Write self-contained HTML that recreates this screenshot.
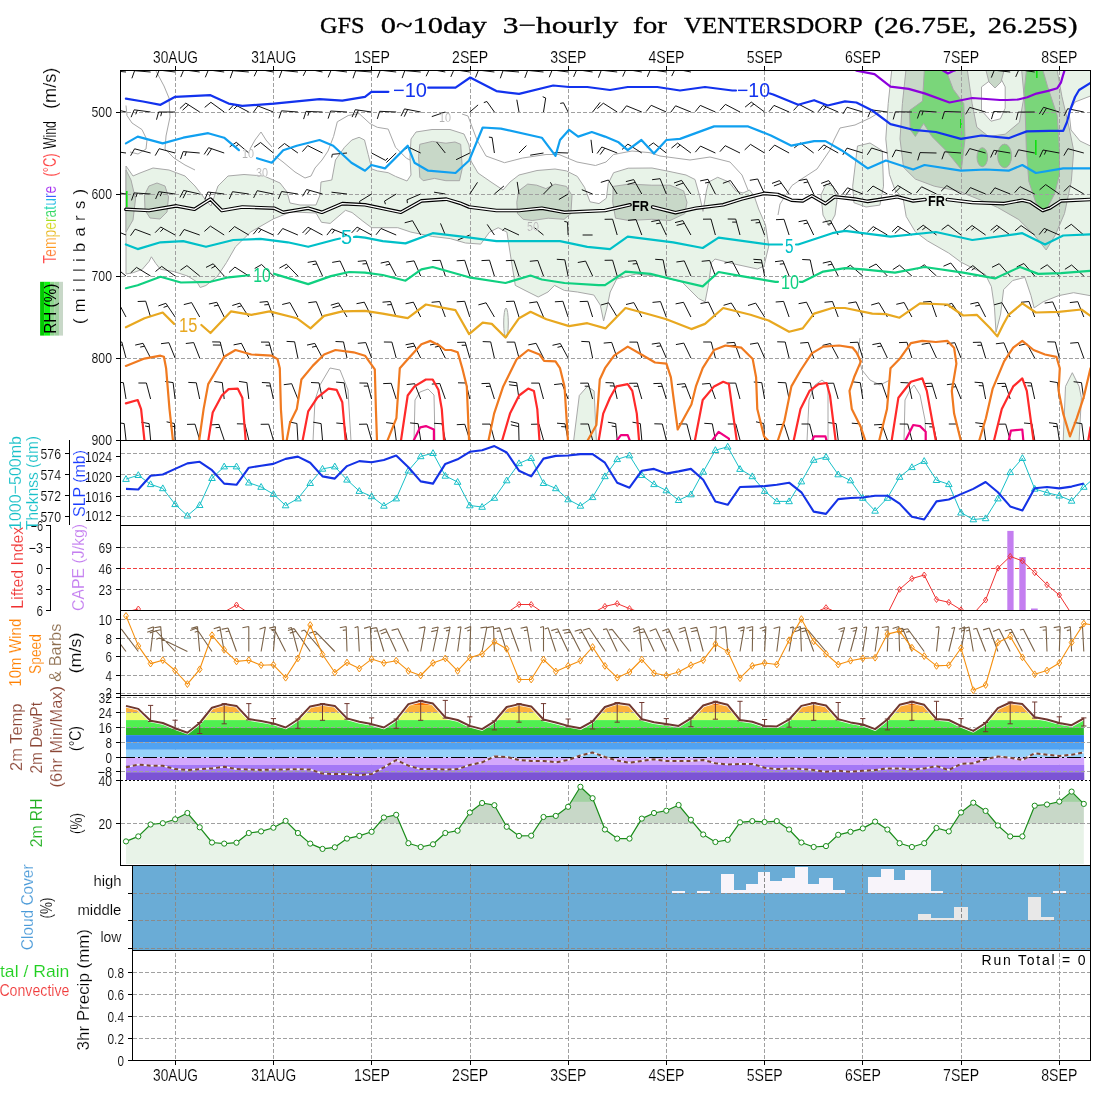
<!DOCTYPE html><html><head><meta charset="utf-8"><title>GFS meteogram</title><style>html,body{margin:0;padding:0;background:#fff;overflow:hidden}svg{display:block}</style></head><body>
<svg width="1100" height="1100" viewBox="0 0 1100 1100" style="will-change:transform">
<style>.th{stroke:#fff;stroke-width:0.15px}</style>
<rect x="0" y="0" width="1100" height="1100" fill="#fff"/>
<defs><clipPath id="cTop"><rect x="121" y="71" width="969" height="369"/></clipPath><clipPath id="cCape"><rect x="121" y="526" width="969" height="84"/></clipPath><clipPath id="cWind"><rect x="121" y="611" width="969" height="84"/></clipPath><clipPath id="cSlp"><rect x="121" y="441" width="969" height="84"/></clipPath></defs>
<text x="320.0" y="33.4" font-family="Liberation Serif" font-size="24" font-weight="normal" fill="#000" text-anchor="start" textLength="44.5" lengthAdjust="spacingAndGlyphs" stroke="#000" stroke-width="0.35">GFS</text>
<text x="380.8" y="33.4" font-family="Liberation Serif" font-size="24" font-weight="normal" fill="#000" text-anchor="start" textLength="106.0" lengthAdjust="spacingAndGlyphs" stroke="#000" stroke-width="0.35">0~10day</text>
<text x="502.7" y="33.4" font-family="Liberation Serif" font-size="24" font-weight="normal" fill="#000" text-anchor="start" textLength="115.5" lengthAdjust="spacingAndGlyphs" stroke="#000" stroke-width="0.35">3−hourly</text>
<text x="633.0" y="33.4" font-family="Liberation Serif" font-size="24" font-weight="normal" fill="#000" text-anchor="start" textLength="34.0" lengthAdjust="spacingAndGlyphs" stroke="#000" stroke-width="0.35">for</text>
<text x="684.0" y="33.4" font-family="Liberation Serif" font-size="24" font-weight="normal" fill="#000" text-anchor="start" textLength="178.7" lengthAdjust="spacingAndGlyphs" stroke="#000" stroke-width="0.35">VENTERSDORP</text>
<text x="874.0" y="33.4" font-family="Liberation Serif" font-size="24" font-weight="normal" fill="#000" text-anchor="start" textLength="102.4" lengthAdjust="spacingAndGlyphs" stroke="#000" stroke-width="0.35">(26.75E,</text>
<text x="987.7" y="33.4" font-family="Liberation Serif" font-size="24" font-weight="normal" fill="#000" text-anchor="start" textLength="89.8" lengthAdjust="spacingAndGlyphs" stroke="#000" stroke-width="0.35">26.25S)</text>
<text x="175.5" y="62.7" class="th" font-family="Liberation Sans" font-size="17" font-weight="normal" fill="#000" text-anchor="middle" textLength="45.0" lengthAdjust="spacingAndGlyphs" >30AUG</text>
<text x="175.5" y="1080.7" class="th" font-family="Liberation Sans" font-size="17" font-weight="normal" fill="#000" text-anchor="middle" textLength="45.0" lengthAdjust="spacingAndGlyphs" >30AUG</text>
<text x="273.7" y="62.7" class="th" font-family="Liberation Sans" font-size="17" font-weight="normal" fill="#000" text-anchor="middle" textLength="45.0" lengthAdjust="spacingAndGlyphs" >31AUG</text>
<text x="273.7" y="1080.7" class="th" font-family="Liberation Sans" font-size="17" font-weight="normal" fill="#000" text-anchor="middle" textLength="45.0" lengthAdjust="spacingAndGlyphs" >31AUG</text>
<text x="371.9" y="62.7" class="th" font-family="Liberation Sans" font-size="17" font-weight="normal" fill="#000" text-anchor="middle" textLength="36.0" lengthAdjust="spacingAndGlyphs" >1SEP</text>
<text x="371.9" y="1080.7" class="th" font-family="Liberation Sans" font-size="17" font-weight="normal" fill="#000" text-anchor="middle" textLength="36.0" lengthAdjust="spacingAndGlyphs" >1SEP</text>
<text x="470.1" y="62.7" class="th" font-family="Liberation Sans" font-size="17" font-weight="normal" fill="#000" text-anchor="middle" textLength="36.0" lengthAdjust="spacingAndGlyphs" >2SEP</text>
<text x="470.1" y="1080.7" class="th" font-family="Liberation Sans" font-size="17" font-weight="normal" fill="#000" text-anchor="middle" textLength="36.0" lengthAdjust="spacingAndGlyphs" >2SEP</text>
<text x="568.3" y="62.7" class="th" font-family="Liberation Sans" font-size="17" font-weight="normal" fill="#000" text-anchor="middle" textLength="36.0" lengthAdjust="spacingAndGlyphs" >3SEP</text>
<text x="568.3" y="1080.7" class="th" font-family="Liberation Sans" font-size="17" font-weight="normal" fill="#000" text-anchor="middle" textLength="36.0" lengthAdjust="spacingAndGlyphs" >3SEP</text>
<text x="666.5" y="62.7" class="th" font-family="Liberation Sans" font-size="17" font-weight="normal" fill="#000" text-anchor="middle" textLength="36.0" lengthAdjust="spacingAndGlyphs" >4SEP</text>
<text x="666.5" y="1080.7" class="th" font-family="Liberation Sans" font-size="17" font-weight="normal" fill="#000" text-anchor="middle" textLength="36.0" lengthAdjust="spacingAndGlyphs" >4SEP</text>
<text x="764.7" y="62.7" class="th" font-family="Liberation Sans" font-size="17" font-weight="normal" fill="#000" text-anchor="middle" textLength="36.0" lengthAdjust="spacingAndGlyphs" >5SEP</text>
<text x="764.7" y="1080.7" class="th" font-family="Liberation Sans" font-size="17" font-weight="normal" fill="#000" text-anchor="middle" textLength="36.0" lengthAdjust="spacingAndGlyphs" >5SEP</text>
<text x="862.9" y="62.7" class="th" font-family="Liberation Sans" font-size="17" font-weight="normal" fill="#000" text-anchor="middle" textLength="36.0" lengthAdjust="spacingAndGlyphs" >6SEP</text>
<text x="862.9" y="1080.7" class="th" font-family="Liberation Sans" font-size="17" font-weight="normal" fill="#000" text-anchor="middle" textLength="36.0" lengthAdjust="spacingAndGlyphs" >6SEP</text>
<text x="961.1" y="62.7" class="th" font-family="Liberation Sans" font-size="17" font-weight="normal" fill="#000" text-anchor="middle" textLength="36.0" lengthAdjust="spacingAndGlyphs" >7SEP</text>
<text x="961.1" y="1080.7" class="th" font-family="Liberation Sans" font-size="17" font-weight="normal" fill="#000" text-anchor="middle" textLength="36.0" lengthAdjust="spacingAndGlyphs" >7SEP</text>
<text x="1059.3" y="62.7" class="th" font-family="Liberation Sans" font-size="17" font-weight="normal" fill="#000" text-anchor="middle" textLength="36.0" lengthAdjust="spacingAndGlyphs" >8SEP</text>
<text x="1059.3" y="1080.7" class="th" font-family="Liberation Sans" font-size="17" font-weight="normal" fill="#000" text-anchor="middle" textLength="36.0" lengthAdjust="spacingAndGlyphs" >8SEP</text>
<g clip-path="url(#cTop)">
<polygon points="126.0,166.0 133.0,176.0 140.0,173.0 153.0,168.0 169.0,170.0 185.0,176.0 195.0,186.0 205.0,199.0 211.0,206.0 218.0,186.0 228.0,176.0 244.0,174.5 264.0,176.0 280.0,183.0 287.0,192.0 290.0,203.0 300.0,205.0 316.0,205.0 320.0,195.0 321.0,182.0 331.8,180.0 335.5,160.0 344.5,147.3 351.8,140.0 359.1,137.3 364.5,140.0 368.2,154.5 371.8,169.0 377.3,170.9 388.2,172.7 395.5,176.4 407.0,181.0 411.0,175.0 410.0,157.0 411.0,139.0 416.0,132.0 432.0,129.5 450.0,129.5 464.0,134.0 469.0,145.0 471.0,161.0 478.0,173.0 491.0,182.0 503.0,190.0 510.0,182.0 519.0,175.0 537.0,170.5 555.0,169.0 566.4,170.9 577.3,176.4 584.5,187.3 590.0,201.8 599.0,203.6 606.4,198.2 608.2,183.6 613.6,172.7 628.2,168.2 652.0,168.0 670.0,171.6 686.0,175.0 695.0,179.5 699.5,195.5 703.0,211.4 706.4,191.0 708.6,182.0 717.7,177.3 729.0,182.0 736.0,191.0 743.0,193.0 749.5,190.0 754.0,195.5 758.6,209.0 765.5,225.0 768.8,246.0 764.0,266.0 757.4,269.0 734.5,264.0 715.0,259.0 711.6,262.5 708.3,285.4 705.1,301.8 698.5,298.5 682.0,282.0 662.5,277.0 636.0,274.0 616.7,279.0 610.2,292.0 606.9,308.0 603.6,321.0 600.3,305.0 593.8,295.0 577.4,292.0 564.3,290.4 554.5,285.4 548.0,292.0 538.2,297.0 525.0,290.4 515.3,285.4 511.3,260.5 506.9,232.1 498.2,227.7 489.5,232.1 480.7,244.1 465.5,243.0 450.2,238.6 432.7,236.5 410.9,232.1 397.8,227.7 371.6,227.7 362.9,221.2 352.0,212.5 345.5,210.3 330.2,223.4 321.5,222.3 316.0,213.0 293.4,212.0 290.0,212.2 273.8,218.7 250.9,231.8 235.5,246.8 226.4,262.7 217.3,276.4 205.9,285.5 200.2,287.5 196.8,281.8 187.7,276.1 174.1,271.6 160.5,269.3 155.9,263.6 151.4,256.8 149.1,261.4 142.3,269.3 133.2,272.7 126.0,274.0" fill="#e8f3e8" stroke="#a8a8a8" stroke-width="1" />
<polygon points="891.7,70.5 1090.5,70.5 1090.5,295.7 1073.6,292.7 1058.4,295.7 1043.2,301.8 1034.1,307.9 1031.0,295.7 1024.9,277.4 1012.7,280.5 1003.6,289.6 1000.6,314.0 996.0,332.3 994.5,307.9 991.4,286.6 985.3,274.4 973.2,268.3 961.0,262.2 948.8,253.1 927.5,240.9 915.3,231.8 906.2,216.5 903.1,198.3 895.0,190.0 889.4,174.4 885.8,138.9 888.2,103.5" fill="#e8f3e8" stroke="#a8a8a8" stroke-width="1" />
<polygon points="857.5,146.0 852.7,186.2 853.9,202.7 866.0,207.0 879.9,205.1 883.5,186.2 882.3,150.7 870.0,143.0" fill="#e8f3e8" stroke="#a8a8a8" stroke-width="1" />
<polygon points="821.0,195.0 826.0,184.0 833.0,186.0 837.0,200.0 835.0,215.0 829.0,226.0 823.0,215.0" fill="#e8f3e8" stroke="#a8a8a8" stroke-width="1" />
<polygon points="573.6,441.0 579.3,395.5 587.3,386.4 594.1,390.9 596.4,441.0" fill="#e8f3e8" stroke="#a8a8a8" stroke-width="1" />
<polygon points="1063.2,441.0 1065.5,386.4 1072.3,372.7 1079.1,386.4 1081.4,397.7 1079.1,441.0" fill="#e8f3e8" stroke="#a8a8a8" stroke-width="1" />
<ellipse cx="506" cy="323" rx="2.3" ry="15" fill="#e8f3e8" stroke="#a8a8a8"/>
<polygon points="1069.0,112.0 1075.0,102.0 1090.5,96.0 1090.5,146.0 1080.0,141.0 1071.0,130.0" fill="#fff" stroke="#a8a8a8" stroke-width="1" />
<polygon points="126.0,170.0 131.0,180.0 135.5,199.0 133.0,220.0 126.0,232.0" fill="#c8d8c8" stroke="#a8a8a8" stroke-width="1" />
<polygon points="419.8,144.3 432.3,141.4 445.9,143.2 455.0,142.0 460.7,144.3 462.3,168.2 459.5,180.7 445.9,180.7 434.5,178.4 423.2,180.7 419.8,177.3 418.6,156.8" fill="#c8d8c8" stroke="#a8a8a8" stroke-width="1" />
<polygon points="518.6,190.9 527.7,184.1 536.8,185.2 545.9,188.6 555.0,184.1 566.4,186.4 572.0,195.5 570.9,213.6 564.1,219.3 548.2,218.2 532.3,220.5 523.2,219.3 517.5,213.6 516.8,202.3" fill="#c8d8c8" stroke="#a8a8a8" stroke-width="1" />
<polygon points="613.2,186.4 629.1,184.1 651.8,185.2 670.0,185.2 683.6,190.9 687.0,202.3 684.8,213.6 670.0,220.5 651.8,219.3 629.1,220.5 615.5,218.2 612.7,202.3" fill="#c8d8c8" stroke="#a8a8a8" stroke-width="1" />
<polygon points="905.9,70.5 902.4,103.5 900.0,138.9 903.5,167.3 915.4,179.1 934.3,186.2 957.9,190.9 981.5,200.4 997.5,207.4 1018.8,219.6 1034.1,234.8 1046.2,250.0 1055.4,234.8 1064.5,213.5 1071.3,181.4 1073.7,150.7 1069.0,127.1 1061.9,96.4 1057.2,70.5" fill="#c8d8c8" stroke="#a8a8a8" stroke-width="1" />
<polygon points="149.0,186.0 157.0,183.0 165.0,186.0 168.5,197.0 167.0,212.0 160.0,219.0 150.0,218.0 145.0,210.0 144.5,195.0" fill="#c8d8c8" stroke="#a8a8a8" stroke-width="1" />
<polygon points="967.4,70.5 972.1,103.5 976.8,127.1 988.6,136.5 1005.2,134.2 1019.4,122.4 1024.1,96.4 1021.7,70.5" fill="#e8f3e8" stroke="#a8a8a8" stroke-width="1" />
<polygon points="981.5,86.9 981.5,110.5 991.0,121.2 1000.4,118.8 1005.2,108.2 1005.2,86.9 1000.4,77.5 991.0,79.8" fill="#fff" stroke="#a8a8a8" stroke-width="1" />
<polygon points="986.0,70.5 989.0,82.0 995.0,88.0 1001.0,82.0 1004.0,70.5" fill="#c8d8c8" stroke="#a8a8a8" stroke-width="1" />
<polygon points="924.3,70.5 946.1,70.5 953.2,89.3 963.8,103.5 965.0,138.9 961.4,169.6 946.1,150.7 931.9,136.5 923.6,123.5 915.4,136.5 910.2,129.5 909.5,110.5 922.5,101.1" fill="#7ad67a" stroke="#a8a8a8" stroke-width="1" />
<polygon points="1026.4,70.5 1043.0,70.5 1047.7,86.9 1057.2,115.3 1059.5,150.7 1059.5,174.4 1054.8,193.3 1047.7,207.4 1043.0,212.2 1035.9,202.7 1028.8,181.4 1026.4,150.7 1025.3,115.3 1024.1,91.6" fill="#7ad67a" stroke="#a8a8a8" stroke-width="1" />
<ellipse cx="982.3" cy="157.2" rx="5.3" ry="9.5" fill="#7ad67a" stroke="#a8a8a8"/>
<ellipse cx="1004.6" cy="155.9" rx="7" ry="11.8" fill="#7ad67a" stroke="#a8a8a8"/>
<rect x="960" y="119" width="1.6" height="9" fill="#10e010"/>
<rect x="1035" y="140" width="1.6" height="15" fill="#10e010"/>
<rect x="1036" y="70" width="1.6" height="8" fill="#10e010"/>
<rect x="126" y="191" width="1.6" height="16" fill="#10e010"/>
<polyline points="156.0,71.0 164.0,86.0 169.0,98.0 170.0,117.0 166.0,136.0 165.0,149.0 174.0,158.0 185.0,165.0 195.0,170.0" fill="none" stroke="#a8a8a8" stroke-width="1" stroke-linejoin="round" />
<polyline points="126.0,105.5 127.0,115.6 132.0,123.0 142.0,129.6 147.0,140.0 146.0,149.0 138.0,154.0 130.0,152.0" fill="none" stroke="#a8a8a8" stroke-width="1" stroke-linejoin="round" />
<polyline points="250.0,149.0 255.0,140.0 261.0,132.0 266.0,140.0 272.0,147.0" fill="none" stroke="#a8a8a8" stroke-width="1" stroke-linejoin="round" />
<polyline points="275.0,156.0 283.0,162.0 295.0,172.0 305.0,178.0 311.0,176.0 315.0,168.0 322.0,160.0 328.0,151.0 333.6,136.4 337.3,121.8 348.2,115.5 359.1,113.6 370.0,123.6 377.3,127.3 388.2,129.1 395.5,147.3 406.4,158.2 410.0,160.0" fill="none" stroke="#a8a8a8" stroke-width="1" stroke-linejoin="round" />
<polyline points="462.0,114.0 468.0,116.0 477.0,140.0 486.0,156.0 504.5,162.7 522.7,158.0 546.0,154.5 559.0,154.5 577.0,162.0 595.5,165.5 606.0,162.0 613.6,154.5 632.0,151.0 650.0,152.7 660.0,156.0 690.0,160.0 710.0,157.0 730.0,162.0 742.0,175.0 748.0,190.0" fill="none" stroke="#a8a8a8" stroke-width="1" stroke-linejoin="round" />
<polyline points="880.0,112.0 870.0,118.0 855.0,125.0 840.0,128.0 834.0,140.0 830.0,150.0 817.0,169.0 800.0,180.0 792.0,185.5 780.0,204.0 778.0,215.0" fill="none" stroke="#a8a8a8" stroke-width="1" stroke-linejoin="round" />
<polyline points="860.0,338.0 858.0,355.0 862.0,370.0 870.0,380.0 880.0,385.0 890.0,380.0" fill="none" stroke="#a8a8a8" stroke-width="1" stroke-linejoin="round" />
<polyline points="313.0,441.0 315.0,400.0 320.0,385.0 330.0,368.0 340.0,370.0 348.0,390.0 351.0,441.0" fill="none" stroke="#a8a8a8" stroke-width="1" stroke-linejoin="round" />
<polyline points="414.0,441.0 415.0,400.0 420.0,392.0 428.0,389.0 434.0,395.0 435.0,441.0" fill="none" stroke="#a8a8a8" stroke-width="1" stroke-linejoin="round" />
<polyline points="807.0,441.0 809.0,400.0 815.0,385.0 822.0,380.0 828.0,385.0 828.0,441.0" fill="none" stroke="#a8a8a8" stroke-width="1" stroke-linejoin="round" />
<polyline points="904.0,441.0 905.0,400.0 910.0,390.0 914.0,385.0 920.0,395.0 925.0,420.0 926.0,441.0" fill="none" stroke="#a8a8a8" stroke-width="1" stroke-linejoin="round" />
</g>
<g stroke="#a0a0a0" stroke-width="1" stroke-dasharray="4 2" shape-rendering="crispEdges">
<line x1="121" y1="112.5" x2="1090" y2="112.5"/>
<line x1="121" y1="194.5" x2="1090" y2="194.5"/>
<line x1="121" y1="276.5" x2="1090" y2="276.5"/>
<line x1="121" y1="358.5" x2="1090" y2="358.5"/>
<line x1="175.5" y1="71" x2="175.5" y2="1060"/>
<line x1="273.7" y1="71" x2="273.7" y2="1060"/>
<line x1="371.9" y1="71" x2="371.9" y2="1060"/>
<line x1="470.1" y1="71" x2="470.1" y2="1060"/>
<line x1="568.3" y1="71" x2="568.3" y2="1060"/>
<line x1="666.5" y1="71" x2="666.5" y2="1060"/>
<line x1="764.7" y1="71" x2="764.7" y2="1060"/>
<line x1="862.9" y1="71" x2="862.9" y2="1060"/>
<line x1="961.1" y1="71" x2="961.1" y2="1060"/>
<line x1="1059.3" y1="71" x2="1059.3" y2="1060"/>
</g>
<g clip-path="url(#cTop)"><path d="M126.0 72.0L110.1 70.5M110.1 70.5L107.3 78.1M150.6 72.0L134.6 70.7M134.6 70.7L131.9 78.3M175.1 72.0L159.2 70.1M159.2 70.1L156.2 77.5M199.7 72.0L183.8 69.8M183.8 69.8L180.7 77.1M224.2 72.0L208.4 69.9M208.4 69.9L205.3 77.3M248.8 72.0L232.9 70.7M232.9 70.7L230.2 78.2M273.4 72.0L257.6 69.1M257.6 69.1L254.2 76.3M297.9 72.0L282.0 70.4M282.0 70.4L279.2 77.9M322.5 72.0L306.8 68.8M306.8 68.8L303.2 75.9M347.0 72.0L331.2 70.0M331.2 70.0L328.1 77.4M371.6 72.0L355.6 70.8M355.6 70.8L353.0 78.3M396.2 72.0L380.3 70.2M380.3 70.2L377.3 77.7M420.7 72.0L404.8 70.6M404.8 70.6L402.1 78.1M445.3 72.0L429.5 69.1M429.5 69.1L426.1 76.3M469.8 72.0L454.0 69.6M454.0 69.6L450.8 76.9M494.4 72.0L478.5 70.1M478.5 70.1L475.5 77.5M519.0 72.0L503.0 70.7M503.0 70.7L500.3 78.3M543.5 72.0L527.6 70.4M527.6 70.4L524.8 77.9M568.1 72.0L552.2 69.9M552.2 69.9L549.2 77.3M592.6 72.0L576.8 69.6M576.8 69.6L573.6 76.9M617.2 72.0L601.3 70.2M601.3 70.2L598.4 77.7M641.8 72.0L626.0 69.3M626.0 69.3L622.7 76.6M666.3 72.0L650.5 69.6M650.5 69.6L647.3 76.9M690.9 72.0L675.2 68.9M675.2 68.9L671.7 76.1M1010.2 72.0L994.3 70.2M994.3 70.2L991.3 77.6M1034.7 72.0L1018.9 69.6M1018.9 69.6L1015.7 76.9M126.0 112.0L110.0 108.0M110.0 108.0L106.1 115.0M113.1 108.8L109.2 115.7M150.6 112.0L134.2 109.8M134.2 109.8L131.1 117.2M137.4 110.3L135.7 114.3M175.1 112.0L158.6 112.0M158.6 112.0L156.5 119.7M161.8 112.0L160.7 116.2M199.7 112.0L185.8 103.1M185.8 103.1L179.9 108.5M188.5 104.8L182.6 110.2M224.2 112.0L210.9 102.3M210.9 102.3L204.7 107.4M248.8 112.0L234.2 104.3M234.2 104.3L228.8 110.1M237.1 105.8L234.1 109.0M273.4 112.0L258.0 106.0M258.0 106.0L253.3 112.4M297.9 112.0L281.5 110.8M281.5 110.8L278.9 118.4M322.5 112.0L306.0 111.4M306.0 111.4L303.6 119.1M309.2 111.5L307.9 115.7M347.0 112.0L330.6 111.0M330.6 111.0L328.1 118.6M371.6 112.0L355.3 109.7M355.3 109.7L352.1 117.1M358.4 110.1L355.3 117.5M396.2 112.0L379.7 111.3M379.7 111.3L377.3 118.9M420.7 112.0L404.5 108.9M404.5 108.9L401.0 116.1M407.7 109.5L404.2 116.7M445.3 112.0L431.8 116.6M469.8 112.0L478.1 104.9M494.4 112.0L486.9 101.5M486.9 101.5L483.8 102.6M519.0 112.0L516.8 99.7M543.5 112.0L545.7 98.0M545.7 98.0L542.7 96.7M568.1 112.0L563.5 102.8M563.5 102.8L560.2 103.4M592.6 112.0L600.2 102.3M617.2 112.0L603.3 103.2M603.3 103.2L597.4 108.6M641.8 112.0L626.5 105.8M626.5 105.8L621.6 112.1M666.3 112.0L651.2 105.3M651.2 105.3L646.2 111.5M690.9 112.0L675.6 105.8M675.6 105.8L670.8 112.2M715.4 112.0L700.3 105.4M700.3 105.4L695.3 111.6M740.0 112.0L725.4 104.4M725.4 104.4L720.0 110.3M764.6 112.0L751.3 102.1M751.3 102.1L745.1 107.1M753.9 104.0L750.4 106.8M789.1 112.0L774.0 105.4M774.0 105.4L769.0 111.6M813.7 112.0L799.0 104.4M799.0 104.4L793.6 110.4M838.2 112.0L823.1 105.5M823.1 105.5L818.1 111.8M826.0 106.8L823.3 110.2M862.8 112.0L847.0 107.2M847.0 107.2L842.8 114.0M887.4 112.0L871.0 109.8M871.0 109.8L867.9 117.2M911.9 112.0L895.4 111.8M895.4 111.8L893.2 119.5M936.5 112.0L920.0 110.9M920.0 110.9L917.4 118.5M923.2 111.1L921.8 115.3M961.0 112.0L944.5 111.5M944.5 111.5L942.2 119.1M985.6 112.0L969.7 107.4M969.7 107.4L965.6 114.3M1010.2 112.0L993.7 111.5M993.7 111.5L991.4 119.2M1034.7 112.0L1018.2 112.1M1018.2 112.1L1016.2 119.9M1059.3 112.0L1043.5 107.3M1043.5 107.3L1039.3 114.1M1046.5 108.2L1042.3 115.0M1083.8 112.0L1067.7 108.7M1067.7 108.7L1064.1 115.9M126.0 153.0L109.6 150.8M109.6 150.8L106.6 158.2M150.6 153.0L134.6 148.8M134.6 148.8L130.6 155.7M175.1 153.0L159.2 148.7M159.2 148.7L155.2 155.6M199.7 153.0L183.2 151.6M183.2 151.6L180.5 159.1M186.4 151.8L184.9 156.0M224.2 153.0L208.6 147.7M208.6 147.7L204.2 154.4M211.6 148.7L207.2 155.4M248.8 153.0L236.3 142.3M236.3 142.3L229.7 146.8M238.7 144.4L235.1 146.9M273.4 153.0L260.6 142.5M260.6 142.5L254.1 147.2M297.9 153.0L284.5 143.5M284.5 143.5L278.3 148.6M322.5 153.0L307.7 145.6M307.7 145.6L302.4 151.6M347.0 153.0L332.3 154.3M332.3 154.3L331.7 157.5M371.6 153.0L385.6 160.4M385.6 160.4L387.9 158.0M396.2 153.0L386.4 162.5M420.7 153.0L407.7 146.8M407.7 146.8L405.5 149.3M445.3 153.0L436.6 142.0M469.8 153.0L456.1 159.7M494.4 153.0L492.1 137.5M492.1 137.5L488.9 137.1M519.0 153.0L526.4 145.6M543.5 153.0L530.2 155.2M568.1 153.0L554.5 152.5M592.6 153.0L591.0 139.8M617.2 153.0L601.8 147.0M601.8 147.0L597.1 153.5M604.8 148.2L600.1 154.6M641.8 153.0L627.9 144.1M627.9 144.1L622.0 149.5M666.3 153.0L653.3 142.9M653.3 142.9L646.9 147.7M690.9 153.0L677.6 143.1M677.6 143.1L671.4 148.1M680.2 145.1L676.8 147.8M715.4 153.0L700.5 146.1M700.5 146.1L695.3 152.2M740.0 153.0L725.2 145.7M725.2 145.7L719.9 151.7M764.6 153.0L750.5 144.4M750.5 144.4L744.7 149.9M789.1 153.0L774.6 145.1M774.6 145.1L769.1 150.9M813.7 153.0L800.6 143.0M800.6 143.0L794.2 147.9M838.2 153.0L823.8 144.9M823.8 144.9L818.3 150.7M826.6 146.5L823.6 149.7M862.8 153.0L847.0 148.1M847.0 148.1L842.8 154.9M887.4 153.0L871.6 148.0M871.6 148.0L867.3 154.8M911.9 153.0L895.7 150.0M895.7 150.0L892.2 157.2M936.5 153.0L920.0 152.6M920.0 152.6L917.7 160.3M961.0 153.0L944.6 151.8M944.6 151.8L941.9 159.3M985.6 153.0L969.7 148.6M969.7 148.6L965.6 155.5M1010.2 153.0L993.9 150.3M993.9 150.3L990.6 157.5M997.0 150.8L995.2 154.8M1034.7 153.0L1018.5 149.8M1018.5 149.8L1015.0 157.0M1059.3 153.0L1043.0 150.0M1043.0 150.0L1039.6 157.3M1046.2 150.6L1044.3 154.6M1083.8 153.0L1067.9 148.7M1067.9 148.7L1063.9 155.6M126.0 194.0L109.7 191.4M109.7 191.4L106.4 198.7M150.6 194.0L134.1 192.9M134.1 192.9L131.5 200.4M137.3 193.1L135.9 197.2M175.1 194.0L158.8 191.7M158.8 191.7L155.6 199.0M162.0 192.1L160.2 196.2M199.7 194.0L183.6 190.4M183.6 190.4L179.9 197.5M186.7 191.1L183.0 198.2M224.2 194.0L207.9 192.0M207.9 192.0L204.9 199.4M211.0 192.4L209.4 196.5M248.8 194.0L232.5 191.7M232.5 191.7L229.3 199.0M273.4 194.0L257.2 190.7M257.2 190.7L253.6 197.9M297.9 194.0L281.6 191.5M281.6 191.5L278.4 198.9M322.5 194.0L306.6 189.5M306.6 189.5L302.5 196.3M309.7 190.3L307.4 194.1M347.0 194.0L331.5 192.2M371.6 194.0L359.5 201.4M359.5 201.4L360.4 204.5M396.2 194.0L384.5 201.1M384.5 201.1L385.4 204.2M420.7 194.0L407.0 199.8M407.0 199.8L407.4 203.1M445.3 194.0L434.1 192.2M469.8 194.0L477.5 182.3M494.4 194.0L503.9 186.0M519.0 194.0L517.2 181.9M543.5 194.0L552.1 185.2M552.1 185.2L550.4 182.3M568.1 194.0L558.9 199.5M592.6 194.0L581.8 189.7M617.2 194.0L608.4 180.0M608.4 180.0L600.8 182.4M641.8 194.0L633.7 179.6M633.7 179.6L625.9 181.6M635.2 182.4L627.5 184.4M666.3 194.0L660.1 178.7M660.1 178.7L652.1 179.7M690.9 194.0L681.6 180.4M681.6 180.4L674.0 183.0M683.4 183.0L675.8 185.7M715.4 194.0L708.0 179.3M708.0 179.3L700.2 180.9M709.5 182.1L705.1 183.0M740.0 194.0L730.4 180.5M730.4 180.5L722.9 183.3M764.6 194.0L757.7 179.0M757.7 179.0L749.8 180.3M789.1 194.0L779.5 180.6M779.5 180.6L772.0 183.4M781.4 183.2L773.9 186.0M813.7 194.0L806.6 179.1M806.6 179.1L798.7 180.6M807.9 182.0L803.6 182.8M838.2 194.0L828.7 180.6M828.7 180.6L821.2 183.4M830.5 183.2L823.0 186.0M862.8 194.0L847.5 187.8M847.5 187.8L842.7 194.1M850.5 189.0L845.6 195.3M887.4 194.0L873.0 186.0M873.0 186.0L867.4 191.7M911.9 194.0L897.8 185.5M897.8 185.5L892.0 191.1M900.5 187.2L894.8 192.7M936.5 194.0L921.6 186.8M921.6 186.8L916.4 192.9M961.0 194.0L946.8 185.6M946.8 185.6L941.1 191.2M985.6 194.0L970.4 187.6M970.4 187.6L965.5 193.9M1010.2 194.0L994.9 187.8M994.9 187.8L990.0 194.2M1034.7 194.0L1020.0 186.6M1020.0 186.6L1014.7 192.6M1059.3 194.0L1045.7 184.6M1045.7 184.6L1039.6 189.8M1083.8 194.0L1069.6 185.7M1069.6 185.7L1063.9 191.4M126.0 235.0L110.7 228.8M110.7 228.8L105.9 235.1M150.6 235.0L135.1 229.2M135.1 229.2L130.5 235.7M175.1 235.0L160.7 227.0M160.7 227.0L155.1 232.7M163.5 228.5L160.4 231.7M199.7 235.0L184.1 229.5M184.1 229.5L179.6 236.1M224.2 235.0L210.4 226.1M210.4 226.1L204.4 231.4M248.8 235.0L234.6 226.6M234.6 226.6L228.9 232.1M273.4 235.0L258.4 228.1M258.4 228.1L253.3 234.2M261.3 229.4L258.5 232.8M297.9 235.0L282.7 228.5M282.7 228.5L277.8 234.8M322.5 235.0L308.0 227.2M308.0 227.2L302.5 233.0M310.8 228.7L305.3 234.5M347.0 235.0L331.8 228.8M331.8 228.8L326.9 235.1M334.7 230.0L332.1 233.5M371.6 235.0L357.1 227.1M357.1 227.1L351.6 232.9M359.9 228.6L356.9 231.8M396.2 235.0L381.0 228.5M381.0 228.5L376.0 234.8M420.7 235.0L412.5 220.7M412.5 220.7L404.7 222.8M445.3 235.0L440.5 223.4M469.8 235.0L457.8 240.0M494.4 235.0L487.2 224.4M519.0 235.0L504.7 228.3M504.7 228.3L502.6 230.8M543.5 235.0L534.3 227.5M568.1 235.0L567.5 222.2M567.5 222.2L564.3 221.4M592.6 235.0L582.6 235.0M617.2 235.0L612.6 219.2M612.6 219.2L604.6 219.3M641.8 235.0L636.0 219.5M636.0 219.5L628.0 220.3M666.3 235.0L659.2 220.1M659.2 220.1L651.3 221.6M660.6 223.0L656.2 223.8M690.9 235.0L682.8 220.6M682.8 220.6L675.0 222.6M684.3 223.4L676.6 225.4M715.4 235.0L711.0 219.1M711.0 219.1L703.0 219.2M740.0 235.0L735.7 219.1M735.7 219.1L727.7 219.0M736.6 222.1L732.2 222.1M764.6 235.0L758.8 219.5M758.8 219.5L750.9 220.3M760.0 222.5L755.6 222.9M789.1 235.0L784.0 219.3M784.0 219.3L776.0 219.7M813.7 235.0L806.5 220.2M806.5 220.2L798.6 221.7M807.9 223.0L803.6 223.9M838.2 235.0L830.4 220.5M830.4 220.5L822.6 222.3M831.9 223.3L827.6 224.3M862.8 235.0L849.4 225.3M849.4 225.3L843.2 230.4M887.4 235.0L873.2 226.6M873.2 226.6L867.4 232.2M875.9 228.2L872.8 231.3M911.9 235.0L897.9 226.2M897.9 226.2L892.1 231.7M900.7 227.9L894.8 233.4M936.5 235.0L923.2 225.2M923.2 225.2L917.0 230.1M925.8 227.1L922.3 229.8M961.0 235.0L948.0 224.9M948.0 224.9L941.6 229.8M985.6 235.0L972.1 225.5M972.1 225.5L966.0 230.6M974.8 227.3L971.4 230.1M1010.2 235.0L996.8 225.3M996.8 225.3L990.6 230.4M999.4 227.2L993.2 232.3M1034.7 235.0L1021.1 225.6M1021.1 225.6L1015.0 230.8M1059.3 235.0L1044.2 228.4M1044.2 228.4L1039.2 234.6M1047.1 229.6L1044.4 233.1M1083.8 235.0L1071.3 224.3M1071.3 224.3L1064.7 228.9M126.0 276.0L113.2 265.6M113.2 265.6L106.7 270.3M150.6 276.0L136.5 267.4M136.5 267.4L130.7 272.9M175.1 276.0L161.7 266.4M161.7 266.4L155.5 271.5M199.7 276.0L186.9 265.6M186.9 265.6L180.4 270.2M224.2 276.0L213.2 263.8M213.2 263.8L206.0 267.4M215.3 266.1L211.4 268.2M248.8 276.0L234.9 267.1M234.9 267.1L229.0 272.5M273.4 276.0L261.6 264.5M261.6 264.5L254.7 268.5M297.9 276.0L286.4 264.2M286.4 264.2L279.4 268.1M288.6 266.5L284.8 268.7M322.5 276.0L315.6 261.0M315.6 261.0L307.7 262.4M316.9 263.9L312.6 264.7M347.0 276.0L340.1 261.0M340.1 261.0L332.2 262.4M371.6 276.0L365.8 260.6M365.8 260.6L357.8 261.4M366.9 263.6L362.5 264.0M396.2 276.0L388.5 261.4M388.5 261.4L380.7 263.1M390.0 264.2L385.7 265.2M420.7 276.0L414.1 260.9M414.1 260.9L406.1 262.1M445.3 276.0L440.3 260.3M440.3 260.3L432.3 260.6M469.8 276.0L464.7 260.3M464.7 260.3L456.7 260.8M494.4 276.0L489.5 260.2M489.5 260.2L481.5 260.6M519.0 276.0L513.9 260.3M513.9 260.3L505.9 260.7M543.5 276.0L537.8 260.5M537.8 260.5L529.8 261.3M568.1 276.0L564.8 259.8M564.8 259.8L556.8 259.3M592.6 276.0L585.6 261.1M585.6 261.1L577.8 262.5M617.2 276.0L612.6 260.2M612.6 260.2L604.6 260.3M641.8 276.0L636.0 260.6M636.0 260.6L628.0 261.3M637.1 263.6L632.7 264.0M666.3 276.0L663.1 259.8M663.1 259.8L655.2 259.3M690.9 276.0L684.3 260.9M684.3 260.9L676.4 262.0M715.4 276.0L709.7 260.5M709.7 260.5L701.7 261.3M740.0 276.0L732.3 261.4M732.3 261.4L724.5 263.1M764.6 276.0L761.4 259.8M761.4 259.8L753.4 259.3M762.0 262.9L754.0 262.4M789.1 276.0L782.9 260.7M782.9 260.7L775.0 261.7M784.1 263.7L779.8 264.2M813.7 276.0L810.2 259.9M810.2 259.9L802.2 259.5M838.2 276.0L830.7 261.3M830.7 261.3L822.8 263.1M832.1 264.2L827.8 265.1M862.8 276.0L850.3 265.2M850.3 265.2L843.7 269.7M887.4 276.0L876.1 264.0M876.1 264.0L869.0 267.7M911.9 276.0L899.5 265.2M899.5 265.2L892.8 269.6M936.5 276.0L924.3 264.8M924.3 264.8L917.6 269.1M961.0 276.0L950.8 263.0M950.8 263.0L943.5 266.2M985.6 276.0L972.8 265.6M972.8 265.6L966.3 270.4M975.2 267.7L971.7 270.2M1010.2 276.0L999.2 263.7M999.2 263.7L992.0 267.3M1034.7 276.0L1023.9 263.5M1023.9 263.5L1016.7 267.0M1059.3 276.0L1047.2 264.8M1047.2 264.8L1040.4 269.1M1083.8 276.0L1071.6 265.0M1071.6 265.0L1064.9 269.3M126.0 317.0L118.3 302.4M118.3 302.4L110.5 304.2M150.6 317.0L145.7 301.2M145.7 301.2L137.7 301.5M175.1 317.0L165.9 303.3M165.9 303.3L158.4 305.9M167.7 305.9L163.6 307.4M199.7 317.0L191.6 302.6M191.6 302.6L183.8 304.6M224.2 317.0L216.8 302.3M216.8 302.3L208.9 304.0M218.2 305.1L213.9 306.1M248.8 317.0L239.9 303.1M239.9 303.1L232.3 305.5M241.6 305.8L237.4 307.1M273.4 317.0L267.6 301.5M267.6 301.5L259.6 302.3M268.7 304.5L264.3 304.9M297.9 317.0L289.9 302.6M289.9 302.6L282.2 304.5M322.5 317.0L316.3 301.7M316.3 301.7L308.3 302.7M347.0 317.0L338.5 302.9M338.5 302.9L330.8 305.2M340.1 305.6L332.4 307.9M371.6 317.0L364.3 302.2M364.3 302.2L356.5 303.7M396.2 317.0L390.5 301.5M390.5 301.5L382.5 302.2M391.6 304.5L387.2 304.9M420.7 317.0L413.4 302.2M413.4 302.2L405.6 303.8M445.3 317.0L439.6 301.5M439.6 301.5L431.6 302.3M469.8 317.0L464.7 301.3M464.7 301.3L456.7 301.8M494.4 317.0L486.1 302.8M486.1 302.8L478.4 304.9M519.0 317.0L514.1 301.2M514.1 301.2L506.1 301.5M543.5 317.0L537.1 301.8M537.1 301.8L529.2 302.9M568.1 317.0L562.9 301.3M562.9 301.3L554.9 301.8M592.6 317.0L587.7 301.3M587.7 301.3L579.7 301.6M617.2 317.0L608.7 302.8M608.7 302.8L601.0 305.0M641.8 317.0L633.8 302.6M633.8 302.6L626.0 304.5M666.3 317.0L660.5 301.6M660.5 301.6L652.5 302.4M690.9 317.0L683.5 302.3M683.5 302.3L675.6 303.9M715.4 317.0L708.4 302.1M708.4 302.1L700.5 303.5M740.0 317.0L731.3 303.0M731.3 303.0L723.6 305.3M764.6 317.0L755.7 303.1M755.7 303.1L748.0 305.5M789.1 317.0L783.6 301.4M783.6 301.4L775.7 302.0M813.7 317.0L806.5 302.2M806.5 302.2L798.6 303.7M838.2 317.0L832.5 301.5M832.5 301.5L824.5 302.3M862.8 317.0L856.1 301.9M856.1 301.9L848.2 303.2M887.4 317.0L878.9 302.8M878.9 302.8L871.2 305.0M911.9 317.0L904.1 302.5M904.1 302.5L896.3 304.3M936.5 317.0L931.0 301.4M931.0 301.4L923.0 302.1M961.0 317.0L951.9 303.3M951.9 303.3L944.3 305.8M953.7 305.9L949.5 307.3M985.6 317.0L978.1 302.3M978.1 302.3L970.3 304.0M979.5 305.2L975.2 306.1M1010.2 317.0L1001.9 302.7M1001.9 302.7L994.1 304.8M1034.7 317.0L1029.0 301.5M1029.0 301.5L1021.0 302.3M1059.3 317.0L1052.7 301.9M1052.7 301.9L1044.7 303.1M1083.8 317.0L1077.8 301.7M1077.8 301.7L1069.8 302.6M126.0 358.0L121.8 342.0M121.8 342.0L113.8 342.0M122.6 345.1L118.2 345.1M150.6 358.0L143.0 343.3M143.0 343.3L135.2 345.1M144.5 346.2L140.2 347.1M175.1 358.0L168.9 342.7M168.9 342.7L161.0 343.7M199.7 358.0L193.7 342.6M193.7 342.6L185.8 343.5M224.2 358.0L220.2 342.0M220.2 342.0L212.2 341.9M220.9 345.1L212.9 345.0M248.8 358.0L241.4 343.3M241.4 343.3L233.6 344.9M273.4 358.0L269.0 342.1M269.0 342.1L261.0 342.1M269.9 345.2L265.5 345.2M297.9 358.0L294.6 341.8M294.6 341.8L286.6 341.4M322.5 358.0L314.8 343.4M314.8 343.4L307.0 345.1M316.3 346.2L312.0 347.2M347.0 358.0L343.5 341.9M343.5 341.9L335.5 341.5M371.6 358.0L365.8 342.6M365.8 342.6L357.8 343.3M396.2 358.0L391.9 342.1M391.9 342.1L383.9 342.0M420.7 358.0L413.4 343.2M413.4 343.2L405.6 344.8M414.8 346.1L407.0 347.6M445.3 358.0L437.8 343.3M437.8 343.3L430.0 345.0M439.2 346.2L434.9 347.1M469.8 358.0L465.2 342.2M465.2 342.2L457.2 342.4M466.1 345.2L461.7 345.3M494.4 358.0L490.7 341.9M490.7 341.9L482.7 341.6M519.0 358.0L514.7 342.1M514.7 342.1L506.7 342.1M543.5 358.0L536.1 343.3M536.1 343.3L528.3 344.9M568.1 358.0L560.3 343.5M560.3 343.5L552.5 345.3M561.8 346.3L557.5 347.3M592.6 358.0L589.3 341.8M589.3 341.8L581.3 341.4M617.2 358.0L611.7 342.4M611.7 342.4L603.7 343.1M641.8 358.0L637.4 342.1M637.4 342.1L629.4 342.1M666.3 358.0L659.7 342.9M659.7 342.9L651.8 344.1M661.0 345.8L656.6 346.5M690.9 358.0L683.8 343.1M683.8 343.1L675.9 344.6M715.4 358.0L711.2 342.0M711.2 342.0L703.2 342.0M740.0 358.0L734.5 342.4M734.5 342.4L726.6 343.0M735.6 345.4L727.6 346.1M764.6 358.0L757.9 342.9M757.9 342.9L750.0 344.2M789.1 358.0L785.2 342.0M785.2 342.0L777.2 341.8M813.7 358.0L808.2 342.4M808.2 342.4L800.2 343.1M838.2 358.0L830.4 343.5M830.4 343.5L822.6 345.4M862.8 358.0L857.9 342.2M857.9 342.2L849.9 342.6M887.4 358.0L880.3 343.1M880.3 343.1L872.4 344.6M881.6 346.0L877.3 346.8M911.9 358.0L907.0 342.3M907.0 342.3L899.0 342.6M936.5 358.0L929.5 343.0M929.5 343.0L921.7 344.4M961.0 358.0L954.8 342.7M954.8 342.7L946.8 343.8M985.6 358.0L980.9 342.2M980.9 342.2L972.9 342.4M981.8 345.2L977.4 345.4M1010.2 358.0L1003.9 342.8M1003.9 342.8L995.9 343.8M1034.7 358.0L1026.8 343.6M1026.8 343.6L1019.0 345.5M1059.3 358.0L1055.3 342.0M1055.3 342.0L1047.3 341.8M1083.8 358.0L1078.2 342.5M1078.2 342.5L1070.2 343.2M126.0 399.0L123.4 382.7M123.4 382.7L115.4 381.9M150.6 399.0L146.4 383.0M146.4 383.0L138.4 383.0M175.1 399.0L173.1 382.6M173.1 382.6L165.2 381.5M199.7 399.0L196.3 382.8M196.3 382.8L188.3 382.4M224.2 399.0L222.3 382.6M222.3 382.6L214.3 381.5M248.8 399.0L246.9 382.6M246.9 382.6L239.0 381.4M273.4 399.0L269.8 382.9M269.8 382.9L261.9 382.5M270.5 386.0L266.1 385.8M297.9 399.0L291.7 383.7M291.7 383.7L283.8 384.7M322.5 399.0L319.0 382.9M319.0 382.9L311.0 382.5M347.0 399.0L344.1 382.8M344.1 382.8L336.1 382.1M371.6 399.0L367.4 383.1M367.4 383.1L359.4 383.0M368.2 386.1L363.8 386.1M396.2 399.0L391.2 383.3M391.2 383.3L383.2 383.6M420.7 399.0L414.7 383.7M414.7 383.7L406.7 384.6M445.3 399.0L439.8 383.5M439.8 383.5L431.8 384.1M469.8 399.0L466.0 383.0M466.0 383.0L458.0 382.8M494.4 399.0L489.5 383.3M489.5 383.3L481.5 383.6M490.4 386.3L486.0 386.5M519.0 399.0L516.7 382.7M516.7 382.7L508.8 381.7M517.1 385.8L509.2 384.8M543.5 399.0L539.2 383.1M539.2 383.1L531.2 383.1M568.1 399.0L562.0 383.7M562.0 383.7L554.1 384.6M592.6 399.0L588.2 383.1M588.2 383.1L580.2 383.2M589.1 386.2L584.7 386.2M617.2 399.0L613.5 382.9M613.5 382.9L605.5 382.6M614.2 386.0L609.8 385.9M641.8 399.0L637.2 383.2M637.2 383.2L629.2 383.3M638.1 386.2L633.7 386.3M666.3 399.0L661.4 383.3M661.4 383.3L653.4 383.6M662.3 386.3L657.9 386.5M690.9 399.0L684.9 383.6M684.9 383.6L676.9 384.5M686.0 386.6L681.7 387.1M715.4 399.0L709.9 383.4M709.9 383.4L702.0 384.1M740.0 399.0L735.7 383.1M735.7 383.1L727.7 383.1M764.6 399.0L761.8 382.7M761.8 382.7L753.8 382.0M789.1 399.0L785.8 382.8M785.8 382.8L777.8 382.4M813.7 399.0L810.3 382.8M810.3 382.8L802.3 382.4M838.2 399.0L833.6 383.2M833.6 383.2L825.6 383.3M862.8 399.0L860.3 382.7M860.3 382.7L852.4 381.8M887.4 399.0L881.9 383.4M881.9 383.4L873.9 384.1M911.9 399.0L908.5 382.9M908.5 382.9L900.5 382.5M936.5 399.0L931.7 383.2M931.7 383.2L923.7 383.5M932.6 386.3L924.6 386.6M961.0 399.0L954.8 383.7M954.8 383.7L946.9 384.7M956.0 386.7L951.6 387.2M985.6 399.0L982.6 382.8M982.6 382.8L974.6 382.2M983.2 385.9L978.8 385.6M1010.2 399.0L1005.2 383.3M1005.2 383.3L997.2 383.6M1006.1 386.3L1001.7 386.5M1034.7 399.0L1031.2 382.9M1031.2 382.9L1023.2 382.5M1031.9 386.0L1027.5 385.8M1059.3 399.0L1057.6 382.6M1057.6 382.6L1049.7 381.3M1083.8 399.0L1081.5 382.7M1081.5 382.7L1073.6 381.7M126.0 440.0L124.2 423.6M124.2 423.6L116.3 422.4M150.6 440.0L149.1 423.6M149.1 423.6L141.2 422.2M149.4 426.8L145.1 426.0M175.1 440.0L174.4 423.5M174.4 423.5L166.6 421.8M174.5 426.7L170.2 425.8M199.7 440.0L195.0 424.2M195.0 424.2L187.0 424.4M224.2 440.0L218.9 424.4M218.9 424.4L210.9 424.9M219.9 427.4L215.6 427.7M248.8 440.0L244.9 424.0M244.9 424.0L236.9 423.8M273.4 440.0L268.7 424.2M268.7 424.2L260.7 424.3M297.9 440.0L296.9 423.5M296.9 423.5L289.1 421.9M322.5 440.0L321.1 423.6M321.1 423.6L313.2 422.2M347.0 440.0L344.2 423.7M344.2 423.7L336.3 423.0M371.6 440.0L367.0 424.1M367.0 424.1L359.0 424.3M396.2 440.0L394.1 423.6M394.1 423.6L386.1 422.6M420.7 440.0L418.1 423.7M418.1 423.7L410.1 422.9M445.3 440.0L442.0 423.8M442.0 423.8L434.1 423.3M469.8 440.0L464.8 424.3M464.8 424.3L456.8 424.7M494.4 440.0L490.1 424.1M490.1 424.1L482.1 424.1M519.0 440.0L518.6 423.5M518.6 423.5L510.8 421.6M518.7 426.7L510.9 424.8M543.5 440.0L539.0 424.1M539.0 424.1L531.0 424.3M568.1 440.0L565.0 423.8M565.0 423.8L557.0 423.2M565.6 426.9L561.2 426.6M592.6 440.0L588.4 424.0M588.4 424.0L580.4 424.0M617.2 440.0L615.7 423.6M615.7 423.6L607.9 422.2M616.0 426.8L611.7 426.0M641.8 440.0L640.3 423.6M640.3 423.6L632.5 422.2M666.3 440.0L662.3 424.0M662.3 424.0L654.3 423.8M690.9 440.0L686.8 424.0M686.8 424.0L678.8 423.9M715.4 440.0L712.3 423.8M712.3 423.8L704.3 423.3M740.0 440.0L735.8 424.0M735.8 424.0L727.8 424.0M764.6 440.0L763.8 423.5M763.8 423.5L756.0 421.8M789.1 440.0L784.1 424.3M784.1 424.3L776.1 424.7M813.7 440.0L809.5 424.0M809.5 424.0L801.5 424.0M838.2 440.0L836.1 423.6M836.1 423.6L828.2 422.6M862.8 440.0L859.8 423.8M859.8 423.8L851.8 423.2M887.4 440.0L882.0 424.4M882.0 424.4L874.0 424.9M883.0 427.4L878.7 427.7M911.9 440.0L907.7 424.1M907.7 424.1L899.7 424.0M936.5 440.0L933.0 423.9M933.0 423.9L925.0 423.5M933.7 427.0L929.3 426.8M961.0 440.0L956.8 424.0M956.8 424.0L948.8 424.0M985.6 440.0L983.2 423.7M983.2 423.7L975.3 422.7M983.7 426.8L979.3 426.3M1010.2 440.0L1005.7 424.1M1005.7 424.1L997.7 424.2M1034.7 440.0L1031.9 423.7M1031.9 423.7L1024.0 423.0M1059.3 440.0L1056.9 423.7M1056.9 423.7L1049.0 422.7M1057.4 426.8L1053.0 426.3M1083.8 440.0L1081.8 423.6M1081.8 423.6L1073.9 422.5" stroke="#111" stroke-width="1" fill="none"/></g>
<g clip-path="url(#cTop)" fill="none" stroke-linejoin="round" stroke-linecap="round">
<polyline points="856.4,70.7 874.5,74.1 890.5,86.6 908.6,88.9 924.5,93.4 949.5,102.5 972.3,98.0 1000.0,100.0 1007.3,100.0 1018.2,99.5 1027.3,97.3 1036.4,93.6 1048.2,90.9 1057.3,88.2 1060.9,82.7 1062.7,76.4 1064.5,70.5" fill="none" stroke="#8c00dc" stroke-width="2.2" stroke-linejoin="round" />
<polyline points="943.0,70.5 948.0,73.5 953.0,71.0 955.0,70.5" fill="none" stroke="#8c00dc" stroke-width="2.2" stroke-linejoin="round" />
<polyline points="125.9,98.6 143.0,101.5 160.5,104.8 175.2,96.8 210.5,95.2 228.6,103.6 242.3,105.9 274.1,103.6 319.5,99.1 342.3,100.7 365.0,96.8 371.4,91.8 388.4,91.8" fill="none" stroke="#1232ee" stroke-width="2.2" stroke-linejoin="round" />
<polyline points="428.2,87.7 455.5,87.7 470.2,77.5 496.4,91.1 519.1,93.9 553.2,85.5 569.1,87.0 587.3,87.0 610.0,90.0 627.7,87.0 657.3,87.0 680.0,90.5 705.0,87.0 732.3,90.5 736.0,90.5" fill="none" stroke="#1232ee" stroke-width="2.2" stroke-linejoin="round" />
<polyline points="770.0,93.5 773.2,94.5 798.2,104.8 814.1,100.2 827.7,105.5 845.0,101.4 856.4,102.5 872.3,110.5 890.5,124.1 913.2,129.8 935.9,132.0 960.9,138.9 981.4,135.5 1008.6,138.2 1026.8,131.4 1049.5,130.9 1063.2,130.9 1067.0,122.0 1070.0,110.5 1075.0,97.0 1079.1,90.0 1090.5,83.0" fill="none" stroke="#1232ee" stroke-width="2.2" stroke-linejoin="round" />
<polyline points="125.9,143.4 137.7,136.6 162.7,143.4 183.2,137.7 208.2,133.2 224.1,137.7 238.9,150.2" fill="none" stroke="#10a0f0" stroke-width="2.2" stroke-linejoin="round" />
<polyline points="257.0,158.2 271.8,162.7 283.2,150.2 296.8,145.7 319.5,140.0 333.2,145.7 351.4,162.7 365.0,170.7 371.4,165.0 385.0,168.4 407.7,145.7 414.5,162.7 428.2,170.7 455.5,173.0 469.1,160.5 482.7,127.5 500.9,128.6 541.8,137.7 555.5,155.9 560.0,140.0 569.1,129.8 578.2,136.6 591.8,132.0 605.0,136.6 618.6,142.3 627.7,150.2 641.4,140.0 653.9,153.6 666.4,140.0 680.0,138.9 714.1,126.4 748.2,126.4 770.9,135.5 791.4,145.7 814.1,141.1 825.5,141.1 841.4,150.2 850.0,156.0 867.7,168.4 885.9,160.5 913.2,169.5 924.5,165.0 960.9,170.7 985.9,169.5 1008.6,170.7 1022.3,165.0 1035.9,173.0 1063.2,168.4 1090.5,168.4" fill="none" stroke="#10a0f0" stroke-width="2.2" stroke-linejoin="round" />
<polyline points="125.9,209.3 149.0,210.5 176.4,205.9 194.5,209.3 210.5,199.1 221.8,210.5 242.3,207.0 274.1,208.2 283.2,212.3 308.2,208.2 321.8,212.3 342.3,203.6 365.0,204.8 400.9,212.3 421.4,200.9 446.4,199.1 460.0,203.2 469.1,207.0 496.4,210.5 519.1,210.5 541.8,208.2 564.5,212.3 605.0,210.5 630.0,204.8" fill="none" stroke="#000" stroke-width="3.6" stroke-linejoin="round" />
<polyline points="125.9,209.3 149.0,210.5 176.4,205.9 194.5,209.3 210.5,199.1 221.8,210.5 242.3,207.0 274.1,208.2 283.2,212.3 308.2,208.2 321.8,212.3 342.3,203.6 365.0,204.8 400.9,212.3 421.4,200.9 446.4,199.1 460.0,203.2 469.1,207.0 496.4,210.5 519.1,210.5 541.8,208.2 564.5,212.3 605.0,210.5 630.0,204.8" fill="none" stroke="#fff" stroke-width="1.3" stroke-linejoin="round" />
<polyline points="652.7,207.0 675.5,212.7 695.9,208.2 723.2,204.8 741.4,199.1 764.1,193.4 777.7,194.5 791.4,200.2 802.7,200.9 811.8,195.7 825.5,203.6 834.5,196.8 855.0,199.1 867.7,201.4 897.3,196.8 913.2,200.9 925.0,199.5" fill="none" stroke="#000" stroke-width="3.6" stroke-linejoin="round" />
<polyline points="652.7,207.0 675.5,212.7 695.9,208.2 723.2,204.8 741.4,199.1 764.1,193.4 777.7,194.5 791.4,200.2 802.7,200.9 811.8,195.7 825.5,203.6 834.5,196.8 855.0,199.1 867.7,201.4 897.3,196.8 913.2,200.9 925.0,199.5" fill="none" stroke="#fff" stroke-width="1.3" stroke-linejoin="round" />
<polyline points="947.3,199.5 972.3,202.5 1004.1,203.6 1022.3,200.2 1030.0,202.0 1042.7,210.5 1050.0,208.0 1060.9,200.9 1090.5,199.5" fill="none" stroke="#000" stroke-width="3.6" stroke-linejoin="round" />
<polyline points="947.3,199.5 972.3,202.5 1004.1,203.6 1022.3,200.2 1030.0,202.0 1042.7,210.5 1050.0,208.0 1060.9,200.9 1090.5,199.5" fill="none" stroke="#fff" stroke-width="1.3" stroke-linejoin="round" />
<polyline points="125.9,244.5 137.7,249.1 160.5,242.3 183.2,241.1 206.0,246.8 233.2,240.0 260.5,238.9 287.7,242.3 308.2,246.8 335.5,239.5 340.0,238.5" fill="none" stroke="#00c0c8" stroke-width="2.2" stroke-linejoin="round" />
<polyline points="354.0,237.0 356.0,236.6 365.0,237.7 382.7,241.1 405.5,243.4 432.7,233.2 462.3,236.6 496.4,241.1 528.2,241.1 560.0,241.1 587.3,246.8 610.0,249.1 627.7,236.6 673.2,242.3 702.7,248.0 718.6,237.7 768.6,244.5 782.0,244.5" fill="none" stroke="#00c0c8" stroke-width="2.2" stroke-linejoin="round" />
<polyline points="796.0,244.5 798.2,244.5 832.3,233.2 845.0,230.9 890.5,236.6 935.9,232.0 972.3,240.0 1022.3,233.2 1045.0,244.5 1063.2,235.5 1090.5,234.3" fill="none" stroke="#00c0c8" stroke-width="2.2" stroke-linejoin="round" />
<polyline points="125.9,288.2 137.7,285.2 160.5,276.8 180.9,282.5 210.5,281.8 228.6,277.3 246.8,275.5 249.0,275.2" fill="none" stroke="#10d080" stroke-width="2.2" stroke-linejoin="round" />
<polyline points="274.1,273.9 308.2,284.1 330.9,276.1 349.1,272.0 365.0,272.7 382.7,275.0 405.5,280.7 421.4,269.3 432.7,267.0 469.1,277.3 505.5,283.0 530.5,275.5 541.8,279.5 564.5,283.0 598.6,285.2 605.0,285.2 625.5,271.6 650.5,273.9 673.2,279.5 702.7,286.4 718.6,272.0 741.4,276.1 775.5,281.8 778.0,281.8" fill="none" stroke="#10d080" stroke-width="2.2" stroke-linejoin="round" />
<polyline points="800.0,281.8 802.7,281.8 823.2,271.6 845.0,268.2 863.2,269.3 895.0,272.7 924.5,267.0 963.2,272.7 995.0,278.4 1020.0,267.0 1038.2,273.9 1060.9,273.2 1090.5,270.9" fill="none" stroke="#10d080" stroke-width="2.2" stroke-linejoin="round" />
<polyline points="125.9,327.3 144.5,318.2 162.7,312.5 174.1,323.9" fill="none" stroke="#e8a820" stroke-width="2.2" stroke-linejoin="round" />
<polyline points="201.4,325.0 210.5,333.0 230.9,311.4 251.4,314.8 269.5,311.4 296.8,318.2 310.5,328.4 324.1,315.9 342.3,311.4 365.0,310.9 382.7,313.6 407.7,318.2 425.9,304.5 455.5,310.2 469.1,334.1 482.7,322.7 491.8,323.9 505.5,337.5 519.1,318.2 530.5,311.8 546.4,319.3 569.1,326.1 587.3,323.2 605.5,328.4 625.5,308.0 650.5,314.8 666.4,319.3 691.4,329.1 705.0,323.9 723.2,308.0 750.5,314.8 768.6,320.5 789.1,331.8 802.7,328.4 814.1,313.6 832.3,308.0 845.0,308.0 872.3,313.6 885.9,314.1 899.5,317.7 920.0,303.4 947.3,304.5 963.2,315.5 976.8,314.8 990.0,328.0 997.3,336.4 1003.0,325.0 1008.6,314.8 1022.3,303.4 1035.9,312.5 1058.6,311.8 1081.4,309.5 1090.5,315.9" fill="none" stroke="#e8a820" stroke-width="2.2" stroke-linejoin="round" />
<polyline points="125.9,365.9 144.5,358.6 160.5,355.7 163.9,356.8 166.1,368.2 169.5,409.1 173.0,441.0" fill="none" stroke="#f07a20" stroke-width="2.2" stroke-linejoin="round" />
<polyline points="199.1,441.0 203.6,409.1 208.2,384.1 215.0,372.7 224.1,356.8 235.5,350.0 251.4,354.5 271.8,355.7 277.5,359.1 279.8,368.2 280.9,409.1 283.2,441.0" fill="none" stroke="#f07a20" stroke-width="2.2" stroke-linejoin="round" />
<polyline points="286.6,441.0 290.0,422.7 296.8,409.1 301.4,379.5 312.7,365.9 324.1,354.5 335.5,350.0 353.6,352.3 365.0,355.7 369.1,361.4 374.8,369.3 375.9,409.1 377.0,441.0" fill="none" stroke="#f07a20" stroke-width="2.2" stroke-linejoin="round" />
<polyline points="387.3,441.0 396.4,418.2 399.8,368.2 410.0,356.8 421.4,344.3 430.5,340.9 439.5,345.5 445.2,350.0 450.9,350.0 457.7,352.3 462.3,368.2 466.8,386.4 469.1,441.0" fill="none" stroke="#f07a20" stroke-width="2.2" stroke-linejoin="round" />
<polyline points="488.4,441.0 494.1,413.6 503.2,386.4 516.8,359.1 528.2,350.0 539.5,354.5 544.1,360.9 555.5,361.4 560.0,368.2 564.5,386.4 568.0,441.0" fill="none" stroke="#f07a20" stroke-width="2.2" stroke-linejoin="round" />
<polyline points="587.3,441.0 596.4,425.0 599.8,379.5 605.0,368.2 614.1,355.7 627.7,346.6 641.4,354.5 655.0,362.5 666.4,363.6 670.9,377.3 673.2,395.5 677.7,429.5 691.4,404.5 695.9,386.4 702.7,368.2 714.1,350.0 725.5,345.5 741.4,347.7 752.7,359.1 756.1,377.3 757.3,409.1 764.1,436.4 768.6,441.0" fill="none" stroke="#f07a20" stroke-width="2.2" stroke-linejoin="round" />
<polyline points="777.7,441.0 784.5,420.5 791.4,386.4 800.5,370.5 811.8,353.4 823.2,346.6 839.1,345.5 852.7,347.7 856.4,352.3 860.9,361.4 854.1,377.3 849.5,390.9 851.8,409.1 860.9,427.3 865.5,441.0" fill="none" stroke="#f07a20" stroke-width="2.2" stroke-linejoin="round" />
<polyline points="879.1,441.0 887.0,409.1 890.5,368.2 899.5,359.1 910.9,343.2 922.3,340.9 935.9,342.0 947.3,340.9 954.1,347.7 956.4,363.6 951.8,390.9 954.1,413.6 960.9,441.0" fill="none" stroke="#f07a20" stroke-width="2.2" stroke-linejoin="round" />
<polyline points="979.1,441.0 985.9,418.2 992.7,388.6 1004.1,361.4 1013.2,347.7 1022.3,340.9 1033.6,350.0 1045.0,354.5 1056.4,356.8 1059.8,368.2 1058.6,390.9 1063.2,413.6 1070.0,436.4 1076.8,418.2 1083.6,397.7 1090.5,368.2" fill="none" stroke="#f07a20" stroke-width="2.2" stroke-linejoin="round" />
<polyline points="125.9,403.4 137.7,400.0 141.1,409.1 144.5,441.0" fill="none" stroke="#ff2a2a" stroke-width="2.2" stroke-linejoin="round" />
<polyline points="208.2,441.0 212.7,412.5 221.8,395.5 228.6,389.1 237.7,388.6 242.3,397.7 245.7,441.0" fill="none" stroke="#ff2a2a" stroke-width="2.2" stroke-linejoin="round" />
<polyline points="302.5,441.0 308.2,411.4 317.3,397.7 328.6,388.6 336.6,389.8 342.3,402.3 345.7,441.0" fill="none" stroke="#ff2a2a" stroke-width="2.2" stroke-linejoin="round" />
<polyline points="400.9,441.0 407.7,395.5 414.5,386.4 425.9,379.5 432.7,379.5 438.4,389.8 441.8,409.1 444.1,441.0" fill="none" stroke="#ff2a2a" stroke-width="2.2" stroke-linejoin="round" />
<polyline points="502.0,441.0 510.0,413.6 519.1,395.5 528.2,388.6 533.9,390.9 537.3,409.1 539.5,441.0" fill="none" stroke="#ff2a2a" stroke-width="2.2" stroke-linejoin="round" />
<polyline points="598.6,441.0 603.2,413.6 610.0,397.7 616.4,386.4 627.7,384.1 632.3,390.9 636.8,413.6 639.1,441.0" fill="none" stroke="#ff2a2a" stroke-width="2.2" stroke-linejoin="round" />
<polyline points="694.8,441.0 702.7,400.0 714.1,386.4 723.2,381.8 728.9,384.1 736.8,441.0" fill="none" stroke="#ff2a2a" stroke-width="2.2" stroke-linejoin="round" />
<polyline points="793.6,441.0 800.5,409.1 809.5,390.9 818.6,384.1 826.6,383.0 830.0,395.5 835.7,441.0" fill="none" stroke="#ff2a2a" stroke-width="2.2" stroke-linejoin="round" />
<polyline points="891.6,441.0 898.4,397.7 910.9,381.8 922.3,378.4 926.8,390.9 935.9,441.0" fill="none" stroke="#ff2a2a" stroke-width="2.2" stroke-linejoin="round" />
<polyline points="993.9,441.0 1001.8,409.1 1013.2,386.4 1022.3,378.4 1026.8,390.9 1033.6,441.0" fill="none" stroke="#ff2a2a" stroke-width="2.2" stroke-linejoin="round" />
<polyline points="1088.2,441.0 1090.5,427.3" fill="none" stroke="#ff2a2a" stroke-width="2.2" stroke-linejoin="round" />
<polyline points="413.4,441.0 420.2,427.3 425.9,426.1 433.9,429.5 433.9,441.0" fill="none" stroke="#f00080" stroke-width="2.2" stroke-linejoin="round" />
<polyline points="616.4,441.0 620.9,435.2 627.7,435.2 630.0,441.0" fill="none" stroke="#f00080" stroke-width="2.2" stroke-linejoin="round" />
<polyline points="711.8,441.0 718.6,431.8 728.9,438.6 729.0,441.0" fill="none" stroke="#f00080" stroke-width="2.2" stroke-linejoin="round" />
<polyline points="811.8,441.0 814.1,436.4 825.5,436.4 826.6,441.0" fill="none" stroke="#f00080" stroke-width="2.2" stroke-linejoin="round" />
<polyline points="905.2,441.0 913.2,425.0 920.0,426.1 925.7,431.8 925.7,441.0" fill="none" stroke="#f00080" stroke-width="2.2" stroke-linejoin="round" />
<polyline points="1008.6,441.0 1010.9,430.7 1022.3,429.5 1023.4,441.0" fill="none" stroke="#f00080" stroke-width="2.2" stroke-linejoin="round" />
</g>
<text x="393.0" y="97.0" font-family="Liberation Sans" font-size="20" font-weight="normal" fill="#1232ee" text-anchor="start" textLength="34.0" lengthAdjust="spacingAndGlyphs" stroke="none">−10</text>
<text x="737.0" y="97.0" font-family="Liberation Sans" font-size="20" font-weight="normal" fill="#1232ee" text-anchor="start" textLength="33.0" lengthAdjust="spacingAndGlyphs" stroke="none">−10</text>
<text x="632.0" y="211.0" font-family="Liberation Sans" font-size="15" font-weight="bold" fill="#000" text-anchor="start" textLength="17.0" lengthAdjust="spacingAndGlyphs" stroke="none">FR</text>
<text x="928.0" y="206.0" font-family="Liberation Sans" font-size="15" font-weight="bold" fill="#000" text-anchor="start" textLength="17.0" lengthAdjust="spacingAndGlyphs" stroke="none">FR</text>
<text x="341.0" y="244.0" font-family="Liberation Sans" font-size="20" font-weight="normal" fill="#00c0c8" text-anchor="start" stroke="none">5</text>
<text x="785.0" y="253.0" font-family="Liberation Sans" font-size="20" font-weight="normal" fill="#00c0c8" text-anchor="start" textLength="8.5" lengthAdjust="spacingAndGlyphs" stroke="none">5</text>
<text x="253.3" y="281.8" font-family="Liberation Sans" font-size="20" font-weight="normal" fill="#10d080" text-anchor="start" textLength="17.5" lengthAdjust="spacingAndGlyphs" stroke="none">10</text>
<text x="781.0" y="288.7" font-family="Liberation Sans" font-size="20" font-weight="normal" fill="#10d080" text-anchor="start" textLength="18.0" lengthAdjust="spacingAndGlyphs" stroke="none">10</text>
<text x="179.0" y="332.0" font-family="Liberation Sans" font-size="20" font-weight="normal" fill="#e8a820" text-anchor="start" textLength="18.3" lengthAdjust="spacingAndGlyphs" stroke="none">15</text>
<text x="242.0" y="158.0" class="th" font-family="Liberation Sans" font-size="13" font-weight="normal" fill="#b0b0b0" text-anchor="start" textLength="12.0" lengthAdjust="spacingAndGlyphs" >10</text>
<text x="256.0" y="177.0" class="th" font-family="Liberation Sans" font-size="13" font-weight="normal" fill="#b0b0b0" text-anchor="start" textLength="12.0" lengthAdjust="spacingAndGlyphs" >30</text>
<text x="439.0" y="122.0" class="th" font-family="Liberation Sans" font-size="13" font-weight="normal" fill="#b0b0b0" text-anchor="start" textLength="12.0" lengthAdjust="spacingAndGlyphs" >10</text>
<text x="527.0" y="231.0" class="th" font-family="Liberation Sans" font-size="12" font-weight="normal" fill="#b0b0b0" text-anchor="start" textLength="12.0" lengthAdjust="spacingAndGlyphs" >50</text>
<g stroke="#000" stroke-width="1" fill="none" shape-rendering="crispEdges">
<rect x="120.5" y="70.5" width="970" height="370"/>
<line x1="175.5" y1="66" x2="175.5" y2="70"/>
<line x1="175.5" y1="1060" x2="175.5" y2="1065"/>
<line x1="273.5" y1="66" x2="273.5" y2="70"/>
<line x1="273.5" y1="1060" x2="273.5" y2="1065"/>
<line x1="371.5" y1="66" x2="371.5" y2="70"/>
<line x1="371.5" y1="1060" x2="371.5" y2="1065"/>
<line x1="470.5" y1="66" x2="470.5" y2="70"/>
<line x1="470.5" y1="1060" x2="470.5" y2="1065"/>
<line x1="568.5" y1="66" x2="568.5" y2="70"/>
<line x1="568.5" y1="1060" x2="568.5" y2="1065"/>
<line x1="666.5" y1="66" x2="666.5" y2="70"/>
<line x1="666.5" y1="1060" x2="666.5" y2="1065"/>
<line x1="764.5" y1="66" x2="764.5" y2="70"/>
<line x1="764.5" y1="1060" x2="764.5" y2="1065"/>
<line x1="862.5" y1="66" x2="862.5" y2="70"/>
<line x1="862.5" y1="1060" x2="862.5" y2="1065"/>
<line x1="961.5" y1="66" x2="961.5" y2="70"/>
<line x1="961.5" y1="1060" x2="961.5" y2="1065"/>
<line x1="1059.5" y1="66" x2="1059.5" y2="70"/>
<line x1="1059.5" y1="1060" x2="1059.5" y2="1065"/>
<line x1="116" y1="112.5" x2="120" y2="112.5"/>
<line x1="116" y1="194.5" x2="120" y2="194.5"/>
<line x1="116" y1="276.5" x2="120" y2="276.5"/>
<line x1="116" y1="358.5" x2="120" y2="358.5"/>
<line x1="116" y1="440.5" x2="120" y2="440.5"/>
</g>
<text x="112.0" y="117.0" class="th" font-family="Liberation Sans" font-size="14" font-weight="normal" fill="#000" text-anchor="end" textLength="20.5" lengthAdjust="spacingAndGlyphs" >500</text>
<text x="112.0" y="199.0" class="th" font-family="Liberation Sans" font-size="14" font-weight="normal" fill="#000" text-anchor="end" textLength="20.5" lengthAdjust="spacingAndGlyphs" >600</text>
<text x="112.0" y="281.0" class="th" font-family="Liberation Sans" font-size="14" font-weight="normal" fill="#000" text-anchor="end" textLength="20.5" lengthAdjust="spacingAndGlyphs" >700</text>
<text x="112.0" y="363.0" class="th" font-family="Liberation Sans" font-size="14" font-weight="normal" fill="#000" text-anchor="end" textLength="20.5" lengthAdjust="spacingAndGlyphs" >800</text>
<text x="112.0" y="445.0" class="th" font-family="Liberation Sans" font-size="14" font-weight="normal" fill="#000" text-anchor="end" textLength="20.5" lengthAdjust="spacingAndGlyphs" >900</text>
<g stroke="#a0a0a0" stroke-width="1" stroke-dasharray="4 2" shape-rendering="crispEdges">
<line x1="121" y1="453.5" x2="1090" y2="453.5"/>
<line x1="121" y1="474.5" x2="1090" y2="474.5"/>
<line x1="121" y1="495.5" x2="1090" y2="495.5"/>
<line x1="121" y1="516.5" x2="1090" y2="516.5"/>
</g>
<g clip-path="url(#cSlp)">
<polyline points="126.0,479.1 138.3,475.2 150.6,484.3 162.8,488.4 175.1,504.3 187.4,515.7 199.7,505.2 212.0,478.2 224.2,466.6 236.5,466.6 248.8,482.7 261.1,487.0 273.4,494.1 285.6,505.5 297.9,498.6 310.2,483.2 322.5,468.9 334.8,466.6 347.0,479.8 359.3,491.1 371.6,496.4 383.9,505.9 396.2,498.6 408.4,470.7 420.7,456.4 433.0,453.2 445.3,475.9 457.6,482.0 469.8,505.5 482.1,507.0 494.4,498.0 506.7,480.5 519.0,463.4 531.2,458.2 543.5,483.2 555.8,488.4 568.1,499.5 580.4,505.9 592.6,497.3 604.9,476.4 617.2,459.3 629.5,455.5 641.8,475.2 654.0,484.3 666.3,490.5 678.6,500.2 690.9,494.5 703.2,471.8 715.4,450.2 727.7,446.8 740.0,469.1 752.3,476.4 764.6,491.1 776.8,501.4 789.1,501.4 801.4,481.6 813.7,460.0 826.0,457.0 838.2,474.5 850.5,480.5 862.8,498.0 875.1,510.9 887.4,498.0 899.6,477.0 911.9,467.3 924.2,461.1 936.5,480.2 948.8,484.3 961.0,512.7 973.3,519.5 985.6,518.4 997.9,498.6 1010.2,472.3 1022.4,458.2 1034.7,488.9 1047.0,492.7 1059.3,495.7 1071.6,500.9 1083.8,487.0 1096.1,476.4" fill="none" stroke="#18c0c8" stroke-width="1" stroke-linejoin="round" />
<path d="M126.0 475.6L122.7 481.4L129.3 481.4ZM138.3 471.7L135.0 477.5L141.6 477.5ZM150.6 480.8L147.3 486.6L153.9 486.6ZM162.8 484.9L159.5 490.7L166.1 490.7ZM175.1 500.8L171.8 506.6L178.4 506.6ZM187.4 512.2L184.1 518.0L190.7 518.0ZM199.7 501.7L196.4 507.5L203.0 507.5ZM212.0 474.7L208.7 480.5L215.3 480.5ZM224.2 463.1L220.9 468.9L227.5 468.9ZM236.5 463.1L233.2 468.9L239.8 468.9ZM248.8 479.2L245.5 485.0L252.1 485.0ZM261.1 483.5L257.8 489.3L264.4 489.3ZM273.4 490.6L270.1 496.4L276.7 496.4ZM285.6 502.0L282.3 507.8L288.9 507.8ZM297.9 495.1L294.6 500.9L301.2 500.9ZM310.2 479.7L306.9 485.5L313.5 485.5ZM322.5 465.4L319.2 471.2L325.8 471.2ZM334.8 463.1L331.5 468.9L338.1 468.9ZM347.0 476.3L343.7 482.1L350.3 482.1ZM359.3 487.6L356.0 493.4L362.6 493.4ZM371.6 492.9L368.3 498.7L374.9 498.7ZM383.9 502.4L380.6 508.2L387.2 508.2ZM396.2 495.1L392.9 500.9L399.5 500.9ZM408.4 467.2L405.1 473.0L411.7 473.0ZM420.7 452.9L417.4 458.7L424.0 458.7ZM433.0 449.7L429.7 455.5L436.3 455.5ZM445.3 472.4L442.0 478.2L448.6 478.2ZM457.6 478.5L454.3 484.3L460.9 484.3ZM469.8 502.0L466.5 507.8L473.1 507.8ZM482.1 503.5L478.8 509.3L485.4 509.3ZM494.4 494.5L491.1 500.3L497.7 500.3ZM506.7 477.0L503.4 482.8L510.0 482.8ZM519.0 459.9L515.7 465.7L522.3 465.7ZM531.2 454.7L527.9 460.5L534.5 460.5ZM543.5 479.7L540.2 485.5L546.8 485.5ZM555.8 484.9L552.5 490.7L559.1 490.7ZM568.1 496.0L564.8 501.8L571.4 501.8ZM580.4 502.4L577.1 508.2L583.7 508.2ZM592.6 493.8L589.3 499.6L595.9 499.6ZM604.9 472.9L601.6 478.7L608.2 478.7ZM617.2 455.8L613.9 461.6L620.5 461.6ZM629.5 452.0L626.2 457.8L632.8 457.8ZM641.8 471.7L638.5 477.5L645.1 477.5ZM654.0 480.8L650.7 486.6L657.3 486.6ZM666.3 487.0L663.0 492.8L669.6 492.8ZM678.6 496.7L675.3 502.5L681.9 502.5ZM690.9 491.0L687.6 496.8L694.2 496.8ZM703.2 468.3L699.9 474.1L706.5 474.1ZM715.4 446.7L712.1 452.5L718.7 452.5ZM727.7 443.3L724.4 449.1L731.0 449.1ZM740.0 465.6L736.7 471.4L743.3 471.4ZM752.3 472.9L749.0 478.7L755.6 478.7ZM764.6 487.6L761.3 493.4L767.9 493.4ZM776.8 497.9L773.5 503.7L780.1 503.7ZM789.1 497.9L785.8 503.7L792.4 503.7ZM801.4 478.1L798.1 483.9L804.7 483.9ZM813.7 456.5L810.4 462.3L817.0 462.3ZM826.0 453.5L822.7 459.3L829.3 459.3ZM838.2 471.0L834.9 476.8L841.5 476.8ZM850.5 477.0L847.2 482.8L853.8 482.8ZM862.8 494.5L859.5 500.3L866.1 500.3ZM875.1 507.4L871.8 513.2L878.4 513.2ZM887.4 494.5L884.1 500.3L890.7 500.3ZM899.6 473.5L896.3 479.3L902.9 479.3ZM911.9 463.8L908.6 469.6L915.2 469.6ZM924.2 457.6L920.9 463.4L927.5 463.4ZM936.5 476.7L933.2 482.5L939.8 482.5ZM948.8 480.8L945.5 486.6L952.1 486.6ZM961.0 509.2L957.7 515.0L964.3 515.0ZM973.3 516.0L970.0 521.8L976.6 521.8ZM985.6 514.9L982.3 520.7L988.9 520.7ZM997.9 495.1L994.6 500.9L1001.2 500.9ZM1010.2 468.8L1006.9 474.6L1013.5 474.6ZM1022.4 454.7L1019.1 460.5L1025.7 460.5ZM1034.7 485.4L1031.4 491.2L1038.0 491.2ZM1047.0 489.2L1043.7 495.0L1050.3 495.0ZM1059.3 492.2L1056.0 498.0L1062.6 498.0ZM1071.6 497.4L1068.3 503.2L1074.9 503.2ZM1083.8 483.5L1080.5 489.3L1087.1 489.3ZM1096.1 472.9L1092.8 478.7L1099.4 478.7Z" fill="none" stroke="#18c0c8" stroke-width="1"/>
<polyline points="126.0,488.9 138.3,489.5 150.6,475.7 162.8,474.5 175.1,468.9 187.4,463.4 199.7,461.8 212.0,470.2 224.2,483.6 236.5,484.8 248.8,467.7 261.1,465.7 273.4,463.9 285.6,458.9 297.9,456.6 310.2,462.7 322.5,476.4 334.8,478.6 347.0,466.1 359.3,461.1 371.6,462.3 383.9,460.0 396.2,455.5 408.4,467.3 420.7,481.4 433.0,483.6 445.3,463.9 457.6,459.3 469.8,451.8 482.1,450.2 494.4,446.1 506.7,452.5 519.0,470.7 531.2,476.4 543.5,458.6 555.8,455.9 568.1,455.5 580.4,454.1 592.6,454.1 604.9,462.7 617.2,482.7 629.5,487.7 641.8,470.7 654.0,468.9 666.3,473.6 678.6,471.4 690.9,468.9 703.2,479.8 715.4,501.4 727.7,504.8 740.0,487.0 752.3,486.6 764.6,486.1 776.8,484.8 789.1,482.7 801.4,492.3 813.7,511.6 826.0,513.9 838.2,499.1 850.5,498.0 862.8,497.5 875.1,495.7 887.4,495.7 899.6,503.6 911.9,516.8 924.2,519.5 936.5,501.4 948.8,499.5 961.0,494.1 973.3,488.9 985.6,482.0 997.9,492.3 1010.2,506.4 1022.4,510.5 1034.7,488.2 1047.0,487.0 1059.3,488.4 1071.6,486.6 1083.8,483.6" fill="none" stroke="#1432e6" stroke-width="2.1" stroke-linejoin="round" />
</g>
<g stroke="#a0a0a0" stroke-width="1" stroke-dasharray="4 2" shape-rendering="crispEdges">
<line x1="121" y1="547.5" x2="1090" y2="547.5"/>
<line x1="121" y1="589.5" x2="1090" y2="589.5"/>
</g>
<line x1="121" y1="568.5" x2="1090" y2="568.5" stroke="#f04040" stroke-width="1" stroke-dasharray="4 2" shape-rendering="crispEdges"/>
<g clip-path="url(#cCape)">
<rect x="1007.3" y="530.9" width="6.3" height="79.1" fill="#c47ef0"/>
<rect x="1019.3" y="557.0" width="6.4" height="53.0" fill="#c47ef0"/>
<rect x="1031.0" y="608.5" width="6.7" height="1.5" fill="#c47ef0"/>
<polyline points="126.0,612.0 138.3,609.0" fill="none" stroke="#f03030" stroke-width="1" stroke-linejoin="round" />
<polyline points="224.2,612.0 236.5,605.0 248.8,613.0" fill="none" stroke="#f03030" stroke-width="1" stroke-linejoin="round" />
<polyline points="506.7,613.0 519.0,604.5 531.2,604.5 543.5,613.0" fill="none" stroke="#f03030" stroke-width="1" stroke-linejoin="round" />
<polyline points="592.6,613.0 604.9,606.4 617.2,603.6 629.5,608.6 641.8,613.0" fill="none" stroke="#f03030" stroke-width="1" stroke-linejoin="round" />
<polyline points="813.7,613.0 826.0,607.7 838.2,613.0" fill="none" stroke="#f03030" stroke-width="1" stroke-linejoin="round" />
<polyline points="887.4,614.0 899.6,589.3 911.9,578.6 924.2,575.0 936.5,599.5 948.8,602.3 961.0,609.8 973.3,614.0 985.6,600.0 997.9,568.2 1010.2,556.4 1022.4,560.9 1034.7,572.7 1047.0,584.8 1059.3,595.0 1071.6,614.0" fill="none" stroke="#f03030" stroke-width="1" stroke-linejoin="round" />
<path d="M138.3 606.0l2.2 3l-2.2 3l-2.2 -3zM236.5 602.0l2.2 3l-2.2 3l-2.2 -3zM519.0 601.5l2.2 3l-2.2 3l-2.2 -3zM531.2 601.5l2.2 3l-2.2 3l-2.2 -3zM604.9 603.4l2.2 3l-2.2 3l-2.2 -3zM617.2 600.6l2.2 3l-2.2 3l-2.2 -3zM629.5 605.6l2.2 3l-2.2 3l-2.2 -3zM826.0 604.7l2.2 3l-2.2 3l-2.2 -3zM899.6 586.3l2.2 3l-2.2 3l-2.2 -3zM911.9 575.6l2.2 3l-2.2 3l-2.2 -3zM924.2 572.0l2.2 3l-2.2 3l-2.2 -3zM936.5 596.5l2.2 3l-2.2 3l-2.2 -3zM948.8 599.3l2.2 3l-2.2 3l-2.2 -3zM961.0 606.8l2.2 3l-2.2 3l-2.2 -3zM985.6 597.0l2.2 3l-2.2 3l-2.2 -3zM997.9 565.2l2.2 3l-2.2 3l-2.2 -3zM1010.2 553.4l2.2 3l-2.2 3l-2.2 -3zM1022.4 557.9l2.2 3l-2.2 3l-2.2 -3zM1034.7 569.7l2.2 3l-2.2 3l-2.2 -3zM1047.0 581.8l2.2 3l-2.2 3l-2.2 -3zM1059.3 592.0l2.2 3l-2.2 3l-2.2 -3z" fill="none" stroke="#f03030" stroke-width="0.9"/>
</g>
<g stroke="#a0a0a0" stroke-width="1" stroke-dasharray="4 2" shape-rendering="crispEdges">
<line x1="121" y1="619.5" x2="1090" y2="619.5"/>
<line x1="121" y1="638.5" x2="1090" y2="638.5"/>
<line x1="121" y1="656.5" x2="1090" y2="656.5"/>
<line x1="121" y1="675.5" x2="1090" y2="675.5"/>
<line x1="121" y1="693.5" x2="1090" y2="693.5"/>
</g>
<g clip-path="url(#cWind)">
<path d="M126.0 651.5L109.1 629.1M109.1 629.1L102.8 630.5M111.1 631.7L107.6 632.4M138.3 651.5L121.4 629.1M121.4 629.1L118.0 630.2M150.6 651.5L153.6 626.7M153.6 626.7L147.6 629.1M153.2 629.9L147.2 632.2M162.8 651.5L160.7 626.6M160.7 626.6L154.3 627.8M160.9 629.8L154.6 631.0M175.1 651.5L156.0 631.0M156.0 631.0L149.8 632.9M187.4 651.5L159.5 637.9M159.5 637.9L156.2 639.2M199.7 651.5L197.5 626.6M197.5 626.6L191.3 628.4M212.0 651.5L196.3 628.3M196.3 628.3L190.2 630.5M198.1 630.9L194.7 632.2M224.2 651.5L219.9 626.9M219.9 626.9L213.7 628.7M220.5 630.0L217.0 631.0M236.5 651.5L228.0 628.0M228.0 628.0L221.6 629.4M229.1 631.0L225.6 631.8M248.8 651.5L248.8 626.5M248.8 626.5L242.4 627.8M261.1 651.5L265.4 626.9M265.4 626.9L259.4 629.3M273.4 651.5L275.5 626.6M275.5 626.6L269.2 628.1M275.3 629.8L271.8 630.6M285.6 651.5L274.3 629.2M274.3 629.2L270.8 629.8M297.9 651.5L291.4 627.4M291.4 627.4L288.1 628.6M310.2 651.5L294.1 628.6M294.1 628.6L287.9 630.5M296.0 631.2L289.8 633.1M322.5 651.5L304.5 630.1M304.5 630.1L301.2 631.3M334.8 651.5L315.3 631.4M315.3 631.4L309.1 633.2M317.5 633.7L314.1 634.7M347.0 651.5L346.2 626.5M346.2 626.5L339.8 627.8M346.3 629.7L342.8 630.4M359.3 651.5L358.0 626.5M358.0 626.5L354.6 627.7M371.6 651.5L370.3 626.5M370.3 626.5L364.1 628.4M383.9 651.5L376.6 627.6M376.6 627.6L370.2 628.8M377.5 630.7L374.0 631.3M396.2 651.5L385.6 628.8M385.6 628.8L379.5 631.2M386.9 631.7L380.9 634.1M408.4 651.5L397.9 628.8M397.9 628.8L391.6 630.4M420.7 651.5L425.1 626.9M425.1 626.9L418.7 628.2M433.0 651.5L438.2 627.0M438.2 627.0L431.9 628.5M437.5 630.2L431.2 631.6M445.3 651.5L450.1 627.0M450.1 627.0L443.7 628.5M449.4 630.1L446.0 630.9M457.6 651.5L461.0 626.7M461.0 626.7L457.6 627.6M469.8 651.5L470.7 626.5M470.7 626.5L464.6 628.7M470.6 629.7L467.2 630.9M482.1 651.5L486.9 627.0M486.9 627.0L480.5 627.9M494.4 651.5L493.5 626.5M493.5 626.5L487.1 627.6M506.7 651.5L499.4 627.6M499.4 627.6L493.0 629.0M500.3 630.7L496.8 631.4M519.0 651.5L510.4 628.0M510.4 628.0L504.1 629.8M531.2 651.5L526.9 626.9M526.9 626.9L520.6 628.3M527.5 630.0L524.0 630.8M543.5 651.5L543.5 626.5M543.5 626.5L540.1 627.5M555.8 651.5L548.1 627.7M548.1 627.7L544.7 628.9M568.1 651.5L557.5 628.8M557.5 628.8L551.3 630.6M558.9 631.7L555.4 632.7M580.4 651.5L569.0 629.2M569.0 629.2L562.6 630.4M570.5 632.1L564.1 633.3M592.6 651.5L580.9 629.4M580.9 629.4L574.7 631.3M582.4 632.3L579.0 633.3M604.9 651.5L589.3 628.3M589.3 628.3L583.0 630.2M617.2 651.5L606.6 628.8M606.6 628.8L603.1 629.6M629.5 651.5L612.2 629.4M612.2 629.4L608.7 630.0M641.8 651.5L639.1 626.6M639.1 626.6L633.1 629.0M639.5 629.8L633.4 632.1M654.0 651.5L643.5 628.8M643.5 628.8L637.1 630.3M644.8 631.7L638.5 633.2M666.3 651.5L655.8 628.8M655.8 628.8L649.7 631.2M678.6 651.5L668.4 628.7M668.4 628.7L662.3 630.9M669.7 631.6L666.4 632.8M690.9 651.5L684.8 627.2M684.8 627.2L678.6 629.2M685.6 630.3L679.4 632.4M703.2 651.5L696.7 627.4M696.7 627.4L690.3 628.7M697.5 630.4L691.2 631.8M715.4 651.5L716.3 626.5M716.3 626.5L709.9 627.7M727.7 651.5L725.5 626.6M725.5 626.6L719.3 628.5M740.0 651.5L744.3 626.9M744.3 626.9L738.1 628.6M743.8 630.0L740.3 631.0M752.3 651.5L752.7 626.5M752.7 626.5L746.4 628.2M752.7 629.7L749.2 630.6M764.6 651.5L765.9 626.5M765.9 626.5L759.7 628.6M765.7 629.7L762.3 630.9M776.8 651.5L779.9 626.7M779.9 626.7L773.6 628.5M789.1 651.5L793.5 626.9M793.5 626.9L790.0 627.9M801.4 651.5L800.5 626.5M800.5 626.5L794.4 628.6M800.6 629.7L794.5 631.8M813.7 651.5L805.1 628.0M805.1 628.0L798.7 629.1M826.0 651.5L808.0 630.1M808.0 630.1L801.7 631.7M838.2 651.5L844.7 627.4M844.7 627.4L838.5 629.4M843.9 630.4L840.5 631.6M850.5 651.5L857.0 627.4M857.0 627.4L850.6 628.7M856.2 630.4L852.7 631.2M862.8 651.5L866.7 626.8M866.7 626.8L863.3 627.8M875.1 651.5L878.6 626.7M878.6 626.7L875.2 628.0M887.4 651.5L888.2 626.5M888.2 626.5L881.8 627.5M888.1 629.7L884.6 630.2M899.6 651.5L898.8 626.5M898.8 626.5L892.6 628.5M911.9 651.5L902.6 628.3M902.6 628.3L896.1 629.3M903.8 631.3L897.3 632.3M924.2 651.5L907.7 628.8M907.7 628.8L901.4 630.1M909.6 631.4L906.1 632.2M936.5 651.5L939.1 626.6M939.1 626.6L935.6 627.5M948.8 651.5L954.8 627.2M954.8 627.2L951.5 628.5M961.0 651.5L965.0 626.8M965.0 626.8L958.9 629.2M964.5 630.0L961.1 631.3M973.3 651.5L969.0 626.9M969.0 626.9L962.8 628.9M969.5 630.0L966.1 631.1M985.6 651.5L976.6 628.2M976.6 628.2L973.2 629.2M997.9 651.5L989.3 628.0M989.3 628.0L983.1 629.9M1010.2 651.5L999.2 629.0M999.2 629.0L993.2 631.4M1022.4 651.5L1011.1 629.2M1011.1 629.2L1004.8 631.0M1012.5 632.1L1009.1 633.0M1034.7 651.5L1023.4 629.2M1023.4 629.2L1019.9 630.0M1047.0 651.5L1046.1 626.5M1046.1 626.5L1039.7 627.5M1046.2 629.7L1042.7 630.2M1059.3 651.5L1060.2 626.5M1060.2 626.5L1053.7 627.6M1060.0 629.7L1056.5 630.3M1071.6 651.5L1070.3 626.5M1070.3 626.5L1063.9 628.1M1070.4 629.7L1066.9 630.6M1083.8 651.5L1082.5 626.5M1082.5 626.5L1079.2 627.7" stroke="#7a6248" stroke-width="1.1" fill="none"/>
<polyline points="126.0,615.9 138.3,645.9 150.6,663.6 162.8,660.2 175.1,670.5 187.4,684.1 199.7,669.3 212.0,635.2 224.2,649.8 236.5,661.4 248.8,660.2 261.1,665.2 273.4,664.8 285.6,677.7 297.9,658.4 310.2,625.0 322.5,654.5 334.8,672.5 347.0,662.5 359.3,668.6 371.6,659.1 383.9,663.0 396.2,660.7 408.4,670.9 420.7,675.5 433.0,663.0 445.3,658.4 457.6,670.9 469.8,657.7 482.1,653.9 494.4,641.8 506.7,648.9 519.0,679.5 531.2,679.5 543.5,659.5 555.8,671.4 568.1,665.9 580.4,660.7 592.6,647.0 604.9,665.9 617.2,677.7 629.5,672.0 641.8,659.5 654.0,673.2 666.3,675.5 678.6,672.0 690.9,665.2 703.2,660.2 715.4,644.1 727.7,651.6 740.0,678.2 752.3,665.9 764.6,663.0 776.8,664.5 789.1,640.2 801.4,619.1 813.7,641.4 826.0,653.9 838.2,664.5 850.5,660.7 862.8,658.4 875.1,657.7 887.4,634.1 899.6,631.1 911.9,647.7 924.2,656.1 936.5,665.9 948.8,665.2 961.0,648.2 973.3,690.2 985.6,685.0 997.9,642.5 1010.2,636.4 1022.4,657.3 1034.7,674.3 1047.0,670.5 1059.3,663.0 1071.6,642.5 1083.8,623.6 1096.1,625.5" fill="none" stroke="#f5900f" stroke-width="1.1" stroke-linejoin="round" />
<path d="M126.0 612.5l2.4 3.4l-2.4 3.4l-2.4 -3.4zM138.3 642.5l2.4 3.4l-2.4 3.4l-2.4 -3.4zM150.6 660.2l2.4 3.4l-2.4 3.4l-2.4 -3.4zM162.8 656.8l2.4 3.4l-2.4 3.4l-2.4 -3.4zM175.1 667.1l2.4 3.4l-2.4 3.4l-2.4 -3.4zM187.4 680.7l2.4 3.4l-2.4 3.4l-2.4 -3.4zM199.7 665.9l2.4 3.4l-2.4 3.4l-2.4 -3.4zM212.0 631.8l2.4 3.4l-2.4 3.4l-2.4 -3.4zM224.2 646.4l2.4 3.4l-2.4 3.4l-2.4 -3.4zM236.5 658.0l2.4 3.4l-2.4 3.4l-2.4 -3.4zM248.8 656.8l2.4 3.4l-2.4 3.4l-2.4 -3.4zM261.1 661.8l2.4 3.4l-2.4 3.4l-2.4 -3.4zM273.4 661.4l2.4 3.4l-2.4 3.4l-2.4 -3.4zM285.6 674.3l2.4 3.4l-2.4 3.4l-2.4 -3.4zM297.9 655.0l2.4 3.4l-2.4 3.4l-2.4 -3.4zM310.2 621.6l2.4 3.4l-2.4 3.4l-2.4 -3.4zM322.5 651.1l2.4 3.4l-2.4 3.4l-2.4 -3.4zM334.8 669.1l2.4 3.4l-2.4 3.4l-2.4 -3.4zM347.0 659.1l2.4 3.4l-2.4 3.4l-2.4 -3.4zM359.3 665.2l2.4 3.4l-2.4 3.4l-2.4 -3.4zM371.6 655.7l2.4 3.4l-2.4 3.4l-2.4 -3.4zM383.9 659.6l2.4 3.4l-2.4 3.4l-2.4 -3.4zM396.2 657.3l2.4 3.4l-2.4 3.4l-2.4 -3.4zM408.4 667.5l2.4 3.4l-2.4 3.4l-2.4 -3.4zM420.7 672.1l2.4 3.4l-2.4 3.4l-2.4 -3.4zM433.0 659.6l2.4 3.4l-2.4 3.4l-2.4 -3.4zM445.3 655.0l2.4 3.4l-2.4 3.4l-2.4 -3.4zM457.6 667.5l2.4 3.4l-2.4 3.4l-2.4 -3.4zM469.8 654.3l2.4 3.4l-2.4 3.4l-2.4 -3.4zM482.1 650.5l2.4 3.4l-2.4 3.4l-2.4 -3.4zM494.4 638.4l2.4 3.4l-2.4 3.4l-2.4 -3.4zM506.7 645.5l2.4 3.4l-2.4 3.4l-2.4 -3.4zM519.0 676.1l2.4 3.4l-2.4 3.4l-2.4 -3.4zM531.2 676.1l2.4 3.4l-2.4 3.4l-2.4 -3.4zM543.5 656.1l2.4 3.4l-2.4 3.4l-2.4 -3.4zM555.8 668.0l2.4 3.4l-2.4 3.4l-2.4 -3.4zM568.1 662.5l2.4 3.4l-2.4 3.4l-2.4 -3.4zM580.4 657.3l2.4 3.4l-2.4 3.4l-2.4 -3.4zM592.6 643.6l2.4 3.4l-2.4 3.4l-2.4 -3.4zM604.9 662.5l2.4 3.4l-2.4 3.4l-2.4 -3.4zM617.2 674.3l2.4 3.4l-2.4 3.4l-2.4 -3.4zM629.5 668.6l2.4 3.4l-2.4 3.4l-2.4 -3.4zM641.8 656.1l2.4 3.4l-2.4 3.4l-2.4 -3.4zM654.0 669.8l2.4 3.4l-2.4 3.4l-2.4 -3.4zM666.3 672.1l2.4 3.4l-2.4 3.4l-2.4 -3.4zM678.6 668.6l2.4 3.4l-2.4 3.4l-2.4 -3.4zM690.9 661.8l2.4 3.4l-2.4 3.4l-2.4 -3.4zM703.2 656.8l2.4 3.4l-2.4 3.4l-2.4 -3.4zM715.4 640.7l2.4 3.4l-2.4 3.4l-2.4 -3.4zM727.7 648.2l2.4 3.4l-2.4 3.4l-2.4 -3.4zM740.0 674.8l2.4 3.4l-2.4 3.4l-2.4 -3.4zM752.3 662.5l2.4 3.4l-2.4 3.4l-2.4 -3.4zM764.6 659.6l2.4 3.4l-2.4 3.4l-2.4 -3.4zM776.8 661.1l2.4 3.4l-2.4 3.4l-2.4 -3.4zM789.1 636.8l2.4 3.4l-2.4 3.4l-2.4 -3.4zM801.4 615.7l2.4 3.4l-2.4 3.4l-2.4 -3.4zM813.7 638.0l2.4 3.4l-2.4 3.4l-2.4 -3.4zM826.0 650.5l2.4 3.4l-2.4 3.4l-2.4 -3.4zM838.2 661.1l2.4 3.4l-2.4 3.4l-2.4 -3.4zM850.5 657.3l2.4 3.4l-2.4 3.4l-2.4 -3.4zM862.8 655.0l2.4 3.4l-2.4 3.4l-2.4 -3.4zM875.1 654.3l2.4 3.4l-2.4 3.4l-2.4 -3.4zM887.4 630.7l2.4 3.4l-2.4 3.4l-2.4 -3.4zM899.6 627.7l2.4 3.4l-2.4 3.4l-2.4 -3.4zM911.9 644.3l2.4 3.4l-2.4 3.4l-2.4 -3.4zM924.2 652.7l2.4 3.4l-2.4 3.4l-2.4 -3.4zM936.5 662.5l2.4 3.4l-2.4 3.4l-2.4 -3.4zM948.8 661.8l2.4 3.4l-2.4 3.4l-2.4 -3.4zM961.0 644.8l2.4 3.4l-2.4 3.4l-2.4 -3.4zM973.3 686.8l2.4 3.4l-2.4 3.4l-2.4 -3.4zM985.6 681.6l2.4 3.4l-2.4 3.4l-2.4 -3.4zM997.9 639.1l2.4 3.4l-2.4 3.4l-2.4 -3.4zM1010.2 633.0l2.4 3.4l-2.4 3.4l-2.4 -3.4zM1022.4 653.9l2.4 3.4l-2.4 3.4l-2.4 -3.4zM1034.7 670.9l2.4 3.4l-2.4 3.4l-2.4 -3.4zM1047.0 667.1l2.4 3.4l-2.4 3.4l-2.4 -3.4zM1059.3 659.6l2.4 3.4l-2.4 3.4l-2.4 -3.4zM1071.6 639.1l2.4 3.4l-2.4 3.4l-2.4 -3.4zM1083.8 620.2l2.4 3.4l-2.4 3.4l-2.4 -3.4zM1096.1 622.1l2.4 3.4l-2.4 3.4l-2.4 -3.4z" fill="none" stroke="#f5900f" stroke-width="1"/>
</g>
<defs><clipPath id="cT2"><polygon points="126.0,705.9 138.3,708.9 150.6,720.7 162.8,723.0 175.1,728.2 187.4,732.7 199.7,723.0 212.0,707.7 224.2,704.1 236.5,705.9 248.8,719.1 261.1,721.1 273.4,723.4 285.6,727.5 297.9,719.5 310.2,706.4 322.5,704.1 334.8,705.9 347.0,718.4 359.3,721.8 371.6,724.1 383.9,727.5 396.2,719.5 408.4,704.1 420.7,700.9 433.0,703.6 445.3,717.3 457.6,720.0 469.8,725.9 482.1,729.1 494.4,721.4 506.7,707.0 519.0,704.1 531.2,706.4 543.5,719.5 555.8,722.5 568.1,725.9 580.4,728.2 592.6,721.4 604.9,707.0 617.2,703.0 629.5,704.8 641.8,719.1 654.0,722.3 666.3,724.1 678.6,725.9 690.9,718.4 703.2,705.5 715.4,701.8 727.7,704.8 740.0,720.0 752.3,721.8 764.6,725.9 776.8,726.4 789.1,719.5 801.4,705.9 813.7,703.0 826.0,705.5 838.2,719.1 850.5,722.4 862.8,724.5 875.1,729.1 887.4,719.5 899.6,704.8 911.9,701.8 924.2,704.8 936.5,719.1 948.8,720.0 961.0,725.9 973.3,730.9 985.6,723.0 997.9,708.2 1010.2,702.5 1022.4,704.1 1034.7,717.3 1047.0,719.5 1059.3,723.0 1071.6,725.2 1083.8,718.4 1084.3,780.0 126.0,780.0"/></clipPath></defs>
<g clip-path="url(#cT2)">
<rect x="126" y="690.0" width="960" height="15.1" fill="#ff6e00"/>
<rect x="126" y="705.1" width="960" height="7.6" fill="#fcb03c"/>
<rect x="126" y="712.7" width="960" height="7.4" fill="#f0fa6e"/>
<rect x="126" y="720.1" width="960" height="7.9" fill="#50f050"/>
<rect x="126" y="728.0" width="960" height="7.1" fill="#2cbc2c"/>
<rect x="126" y="735.1" width="960" height="7.3" fill="#2c80ea"/>
<rect x="126" y="742.4" width="960" height="7.4" fill="#50a2f2"/>
<rect x="126" y="749.8" width="960" height="7.7" fill="#96d2fa"/>
<rect x="126" y="757.5" width="960" height="7.4" fill="#d4a8fc"/>
<rect x="126" y="764.9" width="960" height="7.3" fill="#a478f6"/>
<rect x="126" y="772.2" width="960" height="7.8" fill="#7c54d4"/>
</g>
<g stroke="#a0a0a0" stroke-width="1" stroke-dasharray="4 2" shape-rendering="crispEdges">
<line x1="121" y1="697.5" x2="1090" y2="697.5"/>
<line x1="121" y1="712.5" x2="1090" y2="712.5"/>
<line x1="121" y1="727.5" x2="1090" y2="727.5"/>
<line x1="121" y1="742.5" x2="1090" y2="742.5"/>
<line x1="121" y1="771.5" x2="1090" y2="771.5"/>
</g>
<line x1="121" y1="757.5" x2="1090" y2="757.5" stroke="#000" stroke-width="1.2" stroke-dasharray="14 3 2 3" shape-rendering="crispEdges"/>
<line x1="121" y1="780.5" x2="1090" y2="780.5" stroke="#000" stroke-width="1" stroke-dasharray="2 2" shape-rendering="crispEdges"/>
<polyline points="126.0,767.3 138.3,764.5 150.6,765.7 162.8,765.7 175.1,769.1 187.4,770.0 199.7,769.1 212.0,768.4 224.2,766.8 236.5,769.1 248.8,769.5 261.1,770.0 273.4,769.5 285.6,769.5 297.9,769.1 310.2,769.5 322.5,773.6 334.8,774.1 347.0,774.1 359.3,775.2 371.6,774.1 383.9,767.3 396.2,760.0 408.4,765.7 420.7,769.1 433.0,769.1 445.3,769.5 457.6,769.1 469.8,765.0 482.1,762.3 494.4,756.4 506.7,757.0 519.0,760.0 531.2,760.9 543.5,760.9 555.8,762.3 568.1,760.0 580.4,755.5 592.6,752.5 604.9,757.0 617.2,760.5 629.5,762.7 641.8,760.9 654.0,759.3 666.3,760.9 678.6,760.9 690.9,760.9 703.2,760.0 715.4,763.2 727.7,764.5 740.0,763.9 752.3,763.9 764.6,767.7 776.8,769.1 789.1,768.4 801.4,769.1 813.7,770.0 826.0,771.8 838.2,770.7 850.5,771.8 862.8,770.7 875.1,770.0 887.4,768.4 899.6,768.4 911.9,769.5 924.2,768.4 936.5,766.1 948.8,770.0 961.0,763.9 973.3,763.2 985.6,759.3 997.9,756.4 1010.2,757.7 1022.4,760.0 1034.7,753.2 1047.0,754.8 1059.3,755.9 1071.6,754.8 1083.8,752.5" fill="none" stroke="#f4eef8" stroke-width="1.6" stroke-linejoin="round" />
<polyline points="126.0,767.3 138.3,764.5 150.6,765.7 162.8,765.7 175.1,769.1 187.4,770.0 199.7,769.1 212.0,768.4 224.2,766.8 236.5,769.1 248.8,769.5 261.1,770.0 273.4,769.5 285.6,769.5 297.9,769.1 310.2,769.5 322.5,773.6 334.8,774.1 347.0,774.1 359.3,775.2 371.6,774.1 383.9,767.3 396.2,760.0 408.4,765.7 420.7,769.1 433.0,769.1 445.3,769.5 457.6,769.1 469.8,765.0 482.1,762.3 494.4,756.4 506.7,757.0 519.0,760.0 531.2,760.9 543.5,760.9 555.8,762.3 568.1,760.0 580.4,755.5 592.6,752.5 604.9,757.0 617.2,760.5 629.5,762.7 641.8,760.9 654.0,759.3 666.3,760.9 678.6,760.9 690.9,760.9 703.2,760.0 715.4,763.2 727.7,764.5 740.0,763.9 752.3,763.9 764.6,767.7 776.8,769.1 789.1,768.4 801.4,769.1 813.7,770.0 826.0,771.8 838.2,770.7 850.5,771.8 862.8,770.7 875.1,770.0 887.4,768.4 899.6,768.4 911.9,769.5 924.2,768.4 936.5,766.1 948.8,770.0 961.0,763.9 973.3,763.2 985.6,759.3 997.9,756.4 1010.2,757.7 1022.4,760.0 1034.7,753.2 1047.0,754.8 1059.3,755.9 1071.6,754.8 1083.8,752.5" fill="none" stroke="#7a4434" stroke-width="2" stroke-linejoin="round" stroke-dasharray="4 3"/>
<polyline points="126.0,705.9 138.3,708.9 150.6,720.7 162.8,723.0 175.1,728.2 187.4,732.7 199.7,723.0 212.0,707.7 224.2,704.1 236.5,705.9 248.8,719.1 261.1,721.1 273.4,723.4 285.6,727.5 297.9,719.5 310.2,706.4 322.5,704.1 334.8,705.9 347.0,718.4 359.3,721.8 371.6,724.1 383.9,727.5 396.2,719.5 408.4,704.1 420.7,700.9 433.0,703.6 445.3,717.3 457.6,720.0 469.8,725.9 482.1,729.1 494.4,721.4 506.7,707.0 519.0,704.1 531.2,706.4 543.5,719.5 555.8,722.5 568.1,725.9 580.4,728.2 592.6,721.4 604.9,707.0 617.2,703.0 629.5,704.8 641.8,719.1 654.0,722.3 666.3,724.1 678.6,725.9 690.9,718.4 703.2,705.5 715.4,701.8 727.7,704.8 740.0,720.0 752.3,721.8 764.6,725.9 776.8,726.4 789.1,719.5 801.4,705.9 813.7,703.0 826.0,705.5 838.2,719.1 850.5,722.4 862.8,724.5 875.1,729.1 887.4,719.5 899.6,704.8 911.9,701.8 924.2,704.8 936.5,719.1 948.8,720.0 961.0,725.9 973.3,730.9 985.6,723.0 997.9,708.2 1010.2,702.5 1022.4,704.1 1034.7,717.3 1047.0,719.5 1059.3,723.0 1071.6,725.2 1083.8,718.4" fill="none" stroke="#fff" stroke-width="3.4" stroke-linejoin="round" />
<polyline points="126.0,705.9 138.3,708.9 150.6,720.7 162.8,723.0 175.1,728.2 187.4,732.7 199.7,723.0 212.0,707.7 224.2,704.1 236.5,705.9 248.8,719.1 261.1,721.1 273.4,723.4 285.6,727.5 297.9,719.5 310.2,706.4 322.5,704.1 334.8,705.9 347.0,718.4 359.3,721.8 371.6,724.1 383.9,727.5 396.2,719.5 408.4,704.1 420.7,700.9 433.0,703.6 445.3,717.3 457.6,720.0 469.8,725.9 482.1,729.1 494.4,721.4 506.7,707.0 519.0,704.1 531.2,706.4 543.5,719.5 555.8,722.5 568.1,725.9 580.4,728.2 592.6,721.4 604.9,707.0 617.2,703.0 629.5,704.8 641.8,719.1 654.0,722.3 666.3,724.1 678.6,725.9 690.9,718.4 703.2,705.5 715.4,701.8 727.7,704.8 740.0,720.0 752.3,721.8 764.6,725.9 776.8,726.4 789.1,719.5 801.4,705.9 813.7,703.0 826.0,705.5 838.2,719.1 850.5,722.4 862.8,724.5 875.1,729.1 887.4,719.5 899.6,704.8 911.9,701.8 924.2,704.8 936.5,719.1 948.8,720.0 961.0,725.9 973.3,730.9 985.6,723.0 997.9,708.2 1010.2,702.5 1022.4,704.1 1034.7,717.3 1047.0,719.5 1059.3,723.0 1071.6,725.2 1083.8,718.4" fill="none" stroke="#703830" stroke-width="2" stroke-linejoin="round" />
<path d="M150.6 705.4V721.5M148.0 705.4H153.2M148.0 721.5H153.2M175.1 720.2V729.0M172.5 720.2H177.7M172.5 729.0H177.7M199.7 722.5V733.5M197.1 722.5H202.3M197.1 733.5H202.3M224.2 703.6V723.8M221.6 703.6H226.8M221.6 723.8H226.8M248.8 703.6V719.9M246.2 703.6H251.4M246.2 719.9H251.4M273.4 718.6V724.2M270.8 718.6H276.0M270.8 724.2H276.0M297.9 719.0V728.3M295.3 719.0H300.5M295.3 728.3H300.5M322.5 703.6V720.3M319.9 703.6H325.1M319.9 720.3H325.1M347.0 703.6V719.2M344.4 703.6H349.6M344.4 719.2H349.6M371.6 717.9V724.9M369.0 717.9H374.2M369.0 724.9H374.2M396.2 719.0V728.3M393.6 719.0H398.8M393.6 728.3H398.8M420.7 700.4V720.3M418.1 700.4H423.3M418.1 720.3H423.3M445.3 700.4V718.1M442.7 700.4H447.9M442.7 718.1H447.9M469.8 716.8V726.7M467.2 716.8H472.4M467.2 726.7H472.4M494.4 720.9V729.9M491.8 720.9H497.0M491.8 729.9H497.0M519.0 703.6V722.2M516.4 703.6H521.6M516.4 722.2H521.6M543.5 703.6V720.3M540.9 703.6H546.1M540.9 720.3H546.1M568.1 719.0V726.7M565.5 719.0H570.7M565.5 726.7H570.7M592.6 720.9V729.0M590.0 720.9H595.2M590.0 729.0H595.2M617.2 702.5V722.2M614.6 702.5H619.8M614.6 722.2H619.8M641.8 702.5V719.9M639.2 702.5H644.4M639.2 719.9H644.4M666.3 718.6V724.9M663.7 718.6H668.9M663.7 724.9H668.9M690.9 717.9V726.7M688.3 717.9H693.5M688.3 726.7H693.5M715.4 701.3V719.2M712.8 701.3H718.0M712.8 719.2H718.0M740.0 701.3V720.8M737.4 701.3H742.6M737.4 720.8H742.6M764.6 719.5V726.7M762.0 719.5H767.2M762.0 726.7H767.2M789.1 719.0V727.2M786.5 719.0H791.7M786.5 727.2H791.7M813.7 702.5V720.3M811.1 702.5H816.3M811.1 720.3H816.3M838.2 702.5V719.9M835.6 702.5H840.8M835.6 719.9H840.8M862.8 718.6V725.3M860.2 718.6H865.4M860.2 725.3H865.4M887.4 719.0V729.9M884.8 719.0H890.0M884.8 729.9H890.0M911.9 701.3V720.3M909.3 701.3H914.5M909.3 720.3H914.5M936.5 701.3V719.9M933.9 701.3H939.1M933.9 719.9H939.1M961.0 718.6V726.7M958.4 718.6H963.6M958.4 726.7H963.6M985.6 722.5V731.7M983.0 722.5H988.2M983.0 731.7H988.2M1010.2 702.0V723.8M1007.6 702.0H1012.8M1007.6 723.8H1012.8M1034.7 702.0V718.1M1032.1 702.0H1037.3M1032.1 718.1H1037.3M1059.3 716.8V723.8M1056.7 716.8H1061.9M1056.7 723.8H1061.9M1083.8 717.9V726.0M1081.2 717.9H1086.4M1081.2 726.0H1086.4" stroke="#703830" stroke-width="1" fill="none"/>
<line x1="121" y1="823.5" x2="1090" y2="823.5" stroke="#a0a0a0" stroke-width="1" stroke-dasharray="4 2" shape-rendering="crispEdges"/>
<polygon points="126.0,841.4 138.3,836.4 150.6,824.5 162.8,823.2 175.1,819.3 187.4,813.0 199.7,827.3 212.0,842.5 224.2,843.6 236.5,842.7 248.8,833.0 261.1,831.4 273.4,827.7 285.6,820.9 297.9,833.0 310.2,843.6 322.5,848.9 334.8,847.3 347.0,838.6 359.3,835.9 371.6,831.8 383.9,817.5 396.2,814.8 408.4,843.2 420.7,847.0 433.0,844.3 445.3,833.0 457.6,830.7 469.8,812.5 482.1,803.0 494.4,805.2 506.7,826.8 519.0,835.9 531.2,835.7 543.5,817.0 555.8,815.9 568.1,806.8 580.4,786.8 592.6,798.2 604.9,829.5 617.2,838.6 629.5,838.6 641.8,818.6 654.0,813.0 666.3,810.7 678.6,805.0 690.9,819.8 703.2,834.5 715.4,842.0 727.7,839.8 740.0,822.3 752.3,821.1 764.6,822.0 776.8,821.1 789.1,829.5 801.4,842.5 813.7,847.0 826.0,846.1 838.2,834.8 850.5,831.8 862.8,828.4 875.1,821.6 887.4,829.5 899.6,843.2 911.9,847.0 924.2,843.2 936.5,828.0 948.8,831.4 961.0,812.5 973.3,802.7 985.6,810.9 997.9,825.5 1010.2,836.4 1022.4,836.4 1034.7,805.7 1047.0,804.5 1059.3,801.6 1071.6,791.6 1083.8,803.9 1083.8,864.0 126.0,864.0" fill="#e8f3e8" stroke="none" stroke-width="1" />
<defs><clipPath id="cRH"><polygon points="126.0,841.4 138.3,836.4 150.6,824.5 162.8,823.2 175.1,819.3 187.4,813.0 199.7,827.3 212.0,842.5 224.2,843.6 236.5,842.7 248.8,833.0 261.1,831.4 273.4,827.7 285.6,820.9 297.9,833.0 310.2,843.6 322.5,848.9 334.8,847.3 347.0,838.6 359.3,835.9 371.6,831.8 383.9,817.5 396.2,814.8 408.4,843.2 420.7,847.0 433.0,844.3 445.3,833.0 457.6,830.7 469.8,812.5 482.1,803.0 494.4,805.2 506.7,826.8 519.0,835.9 531.2,835.7 543.5,817.0 555.8,815.9 568.1,806.8 580.4,786.8 592.6,798.2 604.9,829.5 617.2,838.6 629.5,838.6 641.8,818.6 654.0,813.0 666.3,810.7 678.6,805.0 690.9,819.8 703.2,834.5 715.4,842.0 727.7,839.8 740.0,822.3 752.3,821.1 764.6,822.0 776.8,821.1 789.1,829.5 801.4,842.5 813.7,847.0 826.0,846.1 838.2,834.8 850.5,831.8 862.8,828.4 875.1,821.6 887.4,829.5 899.6,843.2 911.9,847.0 924.2,843.2 936.5,828.0 948.8,831.4 961.0,812.5 973.3,802.7 985.6,810.9 997.9,825.5 1010.2,836.4 1022.4,836.4 1034.7,805.7 1047.0,804.5 1059.3,801.6 1071.6,791.6 1083.8,803.9 1083.8,864.0 126.0,864.0"/></clipPath></defs>
<g clip-path="url(#cRH)"><rect x="126" y="780" width="960" height="43.5" fill="#c8d8c8"/><rect x="126" y="780" width="960" height="21.8" fill="#a2d2a2"/></g>
<line x1="126" y1="823.5" x2="1086" y2="823.5" stroke="#a0a0a0" stroke-width="1" stroke-dasharray="4 2" shape-rendering="crispEdges" clip-path="url(#cRH)"/>
<polyline points="126.0,841.4 138.3,836.4 150.6,824.5 162.8,823.2 175.1,819.3 187.4,813.0 199.7,827.3 212.0,842.5 224.2,843.6 236.5,842.7 248.8,833.0 261.1,831.4 273.4,827.7 285.6,820.9 297.9,833.0 310.2,843.6 322.5,848.9 334.8,847.3 347.0,838.6 359.3,835.9 371.6,831.8 383.9,817.5 396.2,814.8 408.4,843.2 420.7,847.0 433.0,844.3 445.3,833.0 457.6,830.7 469.8,812.5 482.1,803.0 494.4,805.2 506.7,826.8 519.0,835.9 531.2,835.7 543.5,817.0 555.8,815.9 568.1,806.8 580.4,786.8 592.6,798.2 604.9,829.5 617.2,838.6 629.5,838.6 641.8,818.6 654.0,813.0 666.3,810.7 678.6,805.0 690.9,819.8 703.2,834.5 715.4,842.0 727.7,839.8 740.0,822.3 752.3,821.1 764.6,822.0 776.8,821.1 789.1,829.5 801.4,842.5 813.7,847.0 826.0,846.1 838.2,834.8 850.5,831.8 862.8,828.4 875.1,821.6 887.4,829.5 899.6,843.2 911.9,847.0 924.2,843.2 936.5,828.0 948.8,831.4 961.0,812.5 973.3,802.7 985.6,810.9 997.9,825.5 1010.2,836.4 1022.4,836.4 1034.7,805.7 1047.0,804.5 1059.3,801.6 1071.6,791.6 1083.8,803.9" fill="none" stroke="#1a8c1a" stroke-width="1.2" stroke-linejoin="round" />
<g fill="#fff" stroke="#1a8c1a" stroke-width="1"><circle cx="126.0" cy="841.4" r="2.6"/><circle cx="138.3" cy="836.4" r="2.6"/><circle cx="150.6" cy="824.5" r="2.6"/><circle cx="162.8" cy="823.2" r="2.6"/><circle cx="175.1" cy="819.3" r="2.6"/><circle cx="187.4" cy="813.0" r="2.6"/><circle cx="199.7" cy="827.3" r="2.6"/><circle cx="212.0" cy="842.5" r="2.6"/><circle cx="224.2" cy="843.6" r="2.6"/><circle cx="236.5" cy="842.7" r="2.6"/><circle cx="248.8" cy="833.0" r="2.6"/><circle cx="261.1" cy="831.4" r="2.6"/><circle cx="273.4" cy="827.7" r="2.6"/><circle cx="285.6" cy="820.9" r="2.6"/><circle cx="297.9" cy="833.0" r="2.6"/><circle cx="310.2" cy="843.6" r="2.6"/><circle cx="322.5" cy="848.9" r="2.6"/><circle cx="334.8" cy="847.3" r="2.6"/><circle cx="347.0" cy="838.6" r="2.6"/><circle cx="359.3" cy="835.9" r="2.6"/><circle cx="371.6" cy="831.8" r="2.6"/><circle cx="383.9" cy="817.5" r="2.6"/><circle cx="396.2" cy="814.8" r="2.6"/><circle cx="408.4" cy="843.2" r="2.6"/><circle cx="420.7" cy="847.0" r="2.6"/><circle cx="433.0" cy="844.3" r="2.6"/><circle cx="445.3" cy="833.0" r="2.6"/><circle cx="457.6" cy="830.7" r="2.6"/><circle cx="469.8" cy="812.5" r="2.6"/><circle cx="482.1" cy="803.0" r="2.6"/><circle cx="494.4" cy="805.2" r="2.6"/><circle cx="506.7" cy="826.8" r="2.6"/><circle cx="519.0" cy="835.9" r="2.6"/><circle cx="531.2" cy="835.7" r="2.6"/><circle cx="543.5" cy="817.0" r="2.6"/><circle cx="555.8" cy="815.9" r="2.6"/><circle cx="568.1" cy="806.8" r="2.6"/><circle cx="580.4" cy="786.8" r="2.6"/><circle cx="592.6" cy="798.2" r="2.6"/><circle cx="604.9" cy="829.5" r="2.6"/><circle cx="617.2" cy="838.6" r="2.6"/><circle cx="629.5" cy="838.6" r="2.6"/><circle cx="641.8" cy="818.6" r="2.6"/><circle cx="654.0" cy="813.0" r="2.6"/><circle cx="666.3" cy="810.7" r="2.6"/><circle cx="678.6" cy="805.0" r="2.6"/><circle cx="690.9" cy="819.8" r="2.6"/><circle cx="703.2" cy="834.5" r="2.6"/><circle cx="715.4" cy="842.0" r="2.6"/><circle cx="727.7" cy="839.8" r="2.6"/><circle cx="740.0" cy="822.3" r="2.6"/><circle cx="752.3" cy="821.1" r="2.6"/><circle cx="764.6" cy="822.0" r="2.6"/><circle cx="776.8" cy="821.1" r="2.6"/><circle cx="789.1" cy="829.5" r="2.6"/><circle cx="801.4" cy="842.5" r="2.6"/><circle cx="813.7" cy="847.0" r="2.6"/><circle cx="826.0" cy="846.1" r="2.6"/><circle cx="838.2" cy="834.8" r="2.6"/><circle cx="850.5" cy="831.8" r="2.6"/><circle cx="862.8" cy="828.4" r="2.6"/><circle cx="875.1" cy="821.6" r="2.6"/><circle cx="887.4" cy="829.5" r="2.6"/><circle cx="899.6" cy="843.2" r="2.6"/><circle cx="911.9" cy="847.0" r="2.6"/><circle cx="924.2" cy="843.2" r="2.6"/><circle cx="936.5" cy="828.0" r="2.6"/><circle cx="948.8" cy="831.4" r="2.6"/><circle cx="961.0" cy="812.5" r="2.6"/><circle cx="973.3" cy="802.7" r="2.6"/><circle cx="985.6" cy="810.9" r="2.6"/><circle cx="997.9" cy="825.5" r="2.6"/><circle cx="1010.2" cy="836.4" r="2.6"/><circle cx="1022.4" cy="836.4" r="2.6"/><circle cx="1034.7" cy="805.7" r="2.6"/><circle cx="1047.0" cy="804.5" r="2.6"/><circle cx="1059.3" cy="801.6" r="2.6"/><circle cx="1071.6" cy="791.6" r="2.6"/><circle cx="1083.8" cy="803.9" r="2.6"/></g>
<rect x="133" y="866" width="957" height="84" fill="#6aacd6"/>
<rect x="672" y="891" width="13" height="2" fill="#f8f4fa" shape-rendering="crispEdges"/>
<rect x="697" y="891" width="13" height="2" fill="#f8f4fa" shape-rendering="crispEdges"/>
<rect x="721" y="874" width="13" height="19" fill="#f8f4fa" shape-rendering="crispEdges"/>
<rect x="734" y="890" width="12" height="3" fill="#f8f4fa" shape-rendering="crispEdges"/>
<rect x="746" y="884" width="12" height="9" fill="#f8f4fa" shape-rendering="crispEdges"/>
<rect x="758" y="872" width="12" height="21" fill="#f8f4fa" shape-rendering="crispEdges"/>
<rect x="770" y="881" width="12" height="12" fill="#f8f4fa" shape-rendering="crispEdges"/>
<rect x="782" y="878" width="13" height="15" fill="#f8f4fa" shape-rendering="crispEdges"/>
<rect x="795" y="867" width="13" height="26" fill="#f8f4fa" shape-rendering="crispEdges"/>
<rect x="808" y="884" width="11" height="9" fill="#f8f4fa" shape-rendering="crispEdges"/>
<rect x="819" y="878" width="14" height="15" fill="#f8f4fa" shape-rendering="crispEdges"/>
<rect x="833" y="890" width="12" height="3" fill="#f8f4fa" shape-rendering="crispEdges"/>
<rect x="868" y="877" width="13" height="16" fill="#f8f4fa" shape-rendering="crispEdges"/>
<rect x="881" y="869" width="13" height="24" fill="#f8f4fa" shape-rendering="crispEdges"/>
<rect x="894" y="880" width="11" height="13" fill="#f8f4fa" shape-rendering="crispEdges"/>
<rect x="905" y="870" width="26" height="23" fill="#f8f4fa" shape-rendering="crispEdges"/>
<rect x="931" y="891" width="12" height="2" fill="#f8f4fa" shape-rendering="crispEdges"/>
<rect x="1053" y="891" width="13" height="2" fill="#f8f4fa" shape-rendering="crispEdges"/>
<rect x="918" y="914" width="13" height="6" fill="#e8e8e8" shape-rendering="crispEdges"/>
<rect x="931" y="918" width="23" height="2" fill="#e8e8e8" shape-rendering="crispEdges"/>
<rect x="954" y="907" width="14" height="13" fill="#e8e8e8" shape-rendering="crispEdges"/>
<rect x="1028" y="897" width="13" height="23" fill="#e8e8e8" shape-rendering="crispEdges"/>
<rect x="1041" y="917" width="13" height="3" fill="#e8e8e8" shape-rendering="crispEdges"/>
<g stroke="#8a8a8a" stroke-width="1" stroke-dasharray="4 2" shape-rendering="crispEdges">
<line x1="133" y1="893.5" x2="1090" y2="893.5"/>
<line x1="133" y1="920.5" x2="1090" y2="920.5"/>
<line x1="133" y1="948.5" x2="1090" y2="948.5"/>
<line x1="175.5" y1="866" x2="175.5" y2="950"/>
<line x1="273.7" y1="866" x2="273.7" y2="950"/>
<line x1="371.9" y1="866" x2="371.9" y2="950"/>
<line x1="470.1" y1="866" x2="470.1" y2="950"/>
<line x1="568.3" y1="866" x2="568.3" y2="950"/>
<line x1="666.5" y1="866" x2="666.5" y2="950"/>
<line x1="764.7" y1="866" x2="764.7" y2="950"/>
<line x1="862.9" y1="866" x2="862.9" y2="950"/>
<line x1="961.1" y1="866" x2="961.1" y2="950"/>
<line x1="1059.3" y1="866" x2="1059.3" y2="950"/>
</g>
<g stroke="#a0a0a0" stroke-width="1" stroke-dasharray="4 2" shape-rendering="crispEdges">
<line x1="133" y1="972.5" x2="1090" y2="972.5"/>
<line x1="133" y1="994.5" x2="1090" y2="994.5"/>
<line x1="133" y1="1016.5" x2="1090" y2="1016.5"/>
<line x1="133" y1="1038.5" x2="1090" y2="1038.5"/>
</g>
<text x="981.5" y="965.2" font-family="Liberation Sans" font-size="14" fill="#000" textLength="104" lengthAdjust="spacing">Run Total = 0</text>
<g stroke="#000" stroke-width="1" fill="none" shape-rendering="crispEdges">
<line x1="120.5" y1="440" x2="120.5" y2="866"/>
<line x1="1090.5" y1="440" x2="1090.5" y2="866"/>
<line x1="120" y1="525.5" x2="1091" y2="525.5"/>
<line x1="120" y1="610.5" x2="1091" y2="610.5"/>
<line x1="120" y1="695.5" x2="1091" y2="695.5"/>
<line x1="120" y1="865.5" x2="1091" y2="865.5"/>
<rect x="132.5" y="865.5" width="958" height="85"/>
<polyline points="132.5,950.5 132.5,1060.5 1090.5,1060.5 1090.5,950.5"/>
<line x1="116" y1="456.5" x2="120" y2="456.5"/>
<line x1="116" y1="476.5" x2="120" y2="476.5"/>
<line x1="116" y1="496.5" x2="120" y2="496.5"/>
<line x1="116" y1="515.5" x2="120" y2="515.5"/>
<line x1="116" y1="547.5" x2="120" y2="547.5"/>
<line x1="116" y1="568.5" x2="120" y2="568.5"/>
<line x1="116" y1="589.5" x2="120" y2="589.5"/>
<line x1="116" y1="619.5" x2="120" y2="619.5"/>
<line x1="116" y1="638.5" x2="120" y2="638.5"/>
<line x1="116" y1="656.5" x2="120" y2="656.5"/>
<line x1="116" y1="675.5" x2="120" y2="675.5"/>
<line x1="116" y1="693.5" x2="120" y2="693.5"/>
<line x1="116" y1="697.5" x2="120" y2="697.5"/>
<line x1="116" y1="712.5" x2="120" y2="712.5"/>
<line x1="116" y1="727.5" x2="120" y2="727.5"/>
<line x1="116" y1="742.5" x2="120" y2="742.5"/>
<line x1="116" y1="757.5" x2="120" y2="757.5"/>
<line x1="116" y1="771.5" x2="120" y2="771.5"/>
<line x1="116" y1="780.5" x2="120" y2="780.5"/>
<line x1="116" y1="823.5" x2="120" y2="823.5"/>
<line x1="128" y1="893.5" x2="132" y2="893.5"/>
<line x1="128" y1="920.5" x2="132" y2="920.5"/>
<line x1="128" y1="948.5" x2="132" y2="948.5"/>
<line x1="128" y1="972.5" x2="132" y2="972.5"/>
<line x1="128" y1="994.5" x2="132" y2="994.5"/>
<line x1="128" y1="1016.5" x2="132" y2="1016.5"/>
<line x1="128" y1="1038.5" x2="132" y2="1038.5"/>
<line x1="128" y1="1060.5" x2="132" y2="1060.5"/>
<line x1="69.5" y1="440" x2="69.5" y2="525"/>
<line x1="65" y1="453.5" x2="69" y2="453.5"/>
<line x1="65" y1="474.5" x2="69" y2="474.5"/>
<line x1="65" y1="495.5" x2="69" y2="495.5"/>
<line x1="65" y1="516.5" x2="69" y2="516.5"/>
<line x1="50.5" y1="525" x2="50.5" y2="611"/>
<line x1="46" y1="525.5" x2="50" y2="525.5"/>
<line x1="46" y1="547.5" x2="50" y2="547.5"/>
<line x1="46" y1="568.5" x2="50" y2="568.5"/>
<line x1="46" y1="589.5" x2="50" y2="589.5"/>
<line x1="46" y1="610.5" x2="50" y2="610.5"/>
</g>
<text x="112.0" y="461.5" class="th" font-family="Liberation Sans" font-size="14" font-weight="normal" fill="#000" text-anchor="end" textLength="27.0" lengthAdjust="spacingAndGlyphs" >1024</text>
<text x="112.0" y="481.5" class="th" font-family="Liberation Sans" font-size="14" font-weight="normal" fill="#000" text-anchor="end" textLength="27.0" lengthAdjust="spacingAndGlyphs" >1020</text>
<text x="112.0" y="501.5" class="th" font-family="Liberation Sans" font-size="14" font-weight="normal" fill="#000" text-anchor="end" textLength="27.0" lengthAdjust="spacingAndGlyphs" >1016</text>
<text x="112.0" y="520.5" class="th" font-family="Liberation Sans" font-size="14" font-weight="normal" fill="#000" text-anchor="end" textLength="27.0" lengthAdjust="spacingAndGlyphs" >1012</text>
<text x="61.0" y="459.0" class="th" font-family="Liberation Sans" font-size="14" font-weight="normal" fill="#000" text-anchor="end" textLength="20.5" lengthAdjust="spacingAndGlyphs" >576</text>
<text x="61.0" y="479.5" class="th" font-family="Liberation Sans" font-size="14" font-weight="normal" fill="#000" text-anchor="end" textLength="20.5" lengthAdjust="spacingAndGlyphs" >574</text>
<text x="61.0" y="500.5" class="th" font-family="Liberation Sans" font-size="14" font-weight="normal" fill="#000" text-anchor="end" textLength="20.5" lengthAdjust="spacingAndGlyphs" >572</text>
<text x="61.0" y="521.5" class="th" font-family="Liberation Sans" font-size="14" font-weight="normal" fill="#000" text-anchor="end" textLength="20.5" lengthAdjust="spacingAndGlyphs" >570</text>
<text x="112.0" y="552.5" class="th" font-family="Liberation Sans" font-size="14" font-weight="normal" fill="#000" text-anchor="end" textLength="13.5" lengthAdjust="spacingAndGlyphs" >69</text>
<text x="112.0" y="573.5" class="th" font-family="Liberation Sans" font-size="14" font-weight="normal" fill="#000" text-anchor="end" textLength="13.5" lengthAdjust="spacingAndGlyphs" >46</text>
<text x="112.0" y="594.5" class="th" font-family="Liberation Sans" font-size="14" font-weight="normal" fill="#000" text-anchor="end" textLength="13.5" lengthAdjust="spacingAndGlyphs" >23</text>
<text x="43.0" y="531.0" class="th" font-family="Liberation Sans" font-size="14" font-weight="normal" fill="#000" text-anchor="end" textLength="12.5" lengthAdjust="spacingAndGlyphs" >−6</text>
<text x="43.0" y="552.5" class="th" font-family="Liberation Sans" font-size="14" font-weight="normal" fill="#000" text-anchor="end" textLength="14.5" lengthAdjust="spacingAndGlyphs" >−3</text>
<text x="43.0" y="573.5" class="th" font-family="Liberation Sans" font-size="14" font-weight="normal" fill="#000" text-anchor="end" textLength="6.5" lengthAdjust="spacingAndGlyphs" >0</text>
<text x="43.0" y="594.5" class="th" font-family="Liberation Sans" font-size="14" font-weight="normal" fill="#000" text-anchor="end" textLength="6.5" lengthAdjust="spacingAndGlyphs" >3</text>
<text x="43.0" y="615.5" class="th" font-family="Liberation Sans" font-size="14" font-weight="normal" fill="#000" text-anchor="end" textLength="6.5" lengthAdjust="spacingAndGlyphs" >6</text>
<text x="112.0" y="624.5" class="th" font-family="Liberation Sans" font-size="14" font-weight="normal" fill="#000" text-anchor="end" textLength="13.5" lengthAdjust="spacingAndGlyphs" >10</text>
<text x="112.0" y="643.5" class="th" font-family="Liberation Sans" font-size="14" font-weight="normal" fill="#000" text-anchor="end" textLength="6.5" lengthAdjust="spacingAndGlyphs" >8</text>
<text x="112.0" y="661.5" class="th" font-family="Liberation Sans" font-size="14" font-weight="normal" fill="#000" text-anchor="end" textLength="6.5" lengthAdjust="spacingAndGlyphs" >6</text>
<text x="112.0" y="680.5" class="th" font-family="Liberation Sans" font-size="14" font-weight="normal" fill="#000" text-anchor="end" textLength="6.5" lengthAdjust="spacingAndGlyphs" >4</text>
<text x="112.0" y="698.0" class="th" font-family="Liberation Sans" font-size="14" font-weight="normal" fill="#000" text-anchor="end" textLength="6.5" lengthAdjust="spacingAndGlyphs" >2</text>
<text x="112.0" y="702.5" class="th" font-family="Liberation Sans" font-size="14" font-weight="normal" fill="#000" text-anchor="end" textLength="13.5" lengthAdjust="spacingAndGlyphs" >32</text>
<text x="112.0" y="717.5" class="th" font-family="Liberation Sans" font-size="14" font-weight="normal" fill="#000" text-anchor="end" textLength="13.5" lengthAdjust="spacingAndGlyphs" >24</text>
<text x="112.0" y="732.5" class="th" font-family="Liberation Sans" font-size="14" font-weight="normal" fill="#000" text-anchor="end" textLength="13.5" lengthAdjust="spacingAndGlyphs" >16</text>
<text x="112.0" y="747.5" class="th" font-family="Liberation Sans" font-size="14" font-weight="normal" fill="#000" text-anchor="end" textLength="6.5" lengthAdjust="spacingAndGlyphs" >8</text>
<text x="112.0" y="762.5" class="th" font-family="Liberation Sans" font-size="14" font-weight="normal" fill="#000" text-anchor="end" textLength="6.5" lengthAdjust="spacingAndGlyphs" >0</text>
<text x="112.0" y="776.5" class="th" font-family="Liberation Sans" font-size="14" font-weight="normal" fill="#000" text-anchor="end" textLength="14.5" lengthAdjust="spacingAndGlyphs" >−8</text>
<text x="112.0" y="785.5" class="th" font-family="Liberation Sans" font-size="14" font-weight="normal" fill="#000" text-anchor="end" textLength="13.5" lengthAdjust="spacingAndGlyphs" >40</text>
<text x="112.0" y="828.5" class="th" font-family="Liberation Sans" font-size="14" font-weight="normal" fill="#000" text-anchor="end" textLength="13.5" lengthAdjust="spacingAndGlyphs" >20</text>
<text x="124.0" y="977.5" class="th" font-family="Liberation Sans" font-size="14" font-weight="normal" fill="#000" text-anchor="end" textLength="16.5" lengthAdjust="spacingAndGlyphs" >0.8</text>
<text x="124.0" y="999.5" class="th" font-family="Liberation Sans" font-size="14" font-weight="normal" fill="#000" text-anchor="end" textLength="16.5" lengthAdjust="spacingAndGlyphs" >0.6</text>
<text x="124.0" y="1021.5" class="th" font-family="Liberation Sans" font-size="14" font-weight="normal" fill="#000" text-anchor="end" textLength="16.5" lengthAdjust="spacingAndGlyphs" >0.4</text>
<text x="124.0" y="1043.5" class="th" font-family="Liberation Sans" font-size="14" font-weight="normal" fill="#000" text-anchor="end" textLength="16.5" lengthAdjust="spacingAndGlyphs" >0.2</text>
<text x="124.0" y="1065.5" class="th" font-family="Liberation Sans" font-size="14" font-weight="normal" fill="#000" text-anchor="end" textLength="6.5" lengthAdjust="spacingAndGlyphs" >0</text>
<text x="121.4" y="885.5" class="th" font-family="Liberation Sans" font-size="15" font-weight="normal" fill="#000" text-anchor="end" textLength="28.0" lengthAdjust="spacingAndGlyphs" >high</text>
<text x="121.4" y="914.5" class="th" font-family="Liberation Sans" font-size="15" font-weight="normal" fill="#000" text-anchor="end" textLength="44.0" lengthAdjust="spacingAndGlyphs" >middle</text>
<text x="121.4" y="942.0" class="th" font-family="Liberation Sans" font-size="15" font-weight="normal" fill="#000" text-anchor="end" textLength="21.0" lengthAdjust="spacingAndGlyphs" >low</text>
<text x="0" y="0" class="th" transform="translate(55.5 224.7) rotate(-90)" font-family="Liberation Sans" font-size="17.5" text-anchor="middle" textLength="77.8" lengthAdjust="spacingAndGlyphs"><tspan fill="#ff3c3c">T</tspan><tspan fill="#ff7a30">e</tspan><tspan fill="#ff9a20">m</tspan><tspan fill="#e8b820">p</tspan><tspan fill="#d8d820">e</tspan><tspan fill="#a0e020">r</tspan><tspan fill="#30d860">a</tspan><tspan fill="#20d8b0">t</tspan><tspan fill="#20b8e8">u</tspan><tspan fill="#3c5cff">r</tspan><tspan fill="#a020f0">e</tspan></text>
<text x="0" y="0" class="th" transform="translate(55.5 165.0) rotate(-90)" font-family="Liberation Sans" font-size="17.5" fill="#ff3c3c" text-anchor="middle" textLength="23.0" lengthAdjust="spacingAndGlyphs" >(°C)</text>
<text x="0" y="0" class="th" transform="translate(55.5 135.1) rotate(-90)" font-family="Liberation Sans" font-size="17.5" fill="#000" text-anchor="middle" textLength="28.0" lengthAdjust="spacingAndGlyphs" >Wind</text>
<text x="0" y="0" class="th" transform="translate(55.5 88.3) rotate(-90)" font-family="Liberation Sans" font-size="17.5" fill="#000" text-anchor="middle" textLength="41.4" lengthAdjust="spacingAndGlyphs" >(m/s)</text>
<rect x="40.1" y="281.8" width="4.6" height="53.8" fill="#00c800"/>
<rect x="44.7" y="281.8" width="5.4" height="53.8" fill="#10f810"/>
<rect x="50.1" y="281.8" width="4.1" height="53.8" fill="#8cd78c"/>
<rect x="54.2" y="281.8" width="4.8" height="53.8" fill="#a0d0a0"/>
<rect x="59" y="281.8" width="4.0" height="53.8" fill="#c8d8c8"/>
<text x="0" y="0" transform="translate(55.5 308.7) rotate(-90)" font-family="Liberation Sans" font-size="17" fill="#000" text-anchor="middle" textLength="50" lengthAdjust="spacingAndGlyphs">RH (%)</text>
<text x="0" y="0" class="th" transform="translate(85.2 256.5) rotate(-90)" font-family="Liberation Sans" font-size="16.5" fill="#000" text-anchor="middle" textLength="135" lengthAdjust="spacing">(millibars)</text>
<text x="0" y="0" class="th" transform="translate(21.0 483.0) rotate(-90)" font-family="Liberation Sans" font-size="17" fill="#18c0c8" text-anchor="middle" textLength="94.0" lengthAdjust="spacingAndGlyphs" >1000−500mb</text>
<text x="0" y="0" class="th" transform="translate(38.0 483.0) rotate(-90)" font-family="Liberation Sans" font-size="17" fill="#18c0c8" text-anchor="middle" textLength="94.0" lengthAdjust="spacingAndGlyphs" >Thcknss (dm)</text>
<text x="0" y="0" class="th" transform="translate(85.0 483.5) rotate(-90)" font-family="Liberation Sans" font-size="17" fill="#1a3cff" text-anchor="middle" textLength="67.0" lengthAdjust="spacingAndGlyphs" >SLP (mb)</text>
<text x="0" y="0" class="th" transform="translate(23.3 567.7) rotate(-90)" font-family="Liberation Sans" font-size="17" fill="#f03030" text-anchor="middle" textLength="82.0" lengthAdjust="spacingAndGlyphs" >Lifted Index</text>
<text x="0" y="0" class="th" transform="translate(83.5 567.5) rotate(-90)" font-family="Liberation Sans" font-size="17" fill="#c47ef0" text-anchor="middle" textLength="87.0" lengthAdjust="spacingAndGlyphs" >CAPE (J/kg)</text>
<text x="0" y="0" class="th" transform="translate(21.1 652.7) rotate(-90)" font-family="Liberation Sans" font-size="17" fill="#ff8000" text-anchor="middle" textLength="68.0" lengthAdjust="spacingAndGlyphs" >10m Wind</text>
<text x="0" y="0" class="th" transform="translate(40.9 654.0) rotate(-90)" font-family="Liberation Sans" font-size="17" fill="#ff8000" text-anchor="middle" textLength="40.0" lengthAdjust="spacingAndGlyphs" >Speed</text>
<text x="0" y="0" class="th" transform="translate(60.9 652.7) rotate(-90)" font-family="Liberation Sans" font-size="17" fill="#8c6c4c" text-anchor="middle" textLength="58.0" lengthAdjust="spacingAndGlyphs" >&amp; Barbs</text>
<text x="0" y="0" class="th" transform="translate(81.0 653.0) rotate(-90)" font-family="Liberation Sans" font-size="17" fill="#000" text-anchor="middle" textLength="41.0" lengthAdjust="spacingAndGlyphs" >(m/s)</text>
<text x="0" y="0" class="th" transform="translate(21.6 737.3) rotate(-90)" font-family="Liberation Sans" font-size="17" fill="#8b4636" text-anchor="middle" textLength="67.4" lengthAdjust="spacingAndGlyphs" >2m Temp</text>
<text x="0" y="0" class="th" transform="translate(41.5 737.8) rotate(-90)" font-family="Liberation Sans" font-size="17" fill="#8b4636" text-anchor="middle" textLength="71.6" lengthAdjust="spacingAndGlyphs" >2m DewPt</text>
<text x="0" y="0" class="th" transform="translate(61.5 736.7) rotate(-90)" font-family="Liberation Sans" font-size="17" fill="#8b4636" text-anchor="middle" textLength="101.4" lengthAdjust="spacingAndGlyphs" >(6hr Min/Max)</text>
<text x="0" y="0" class="th" transform="translate(81.0 738.5) rotate(-90)" font-family="Liberation Sans" font-size="17" fill="#000" text-anchor="middle" textLength="25.0" lengthAdjust="spacingAndGlyphs" >(°C)</text>
<text x="0" y="0" class="th" transform="translate(41.7 822.9) rotate(-90)" font-family="Liberation Sans" font-size="17" fill="#20b020" text-anchor="middle" textLength="48.8" lengthAdjust="spacingAndGlyphs" >2m RH</text>
<text x="0" y="0" class="th" transform="translate(81.5 823.5) rotate(-90)" font-family="Liberation Sans" font-size="17" fill="#000" text-anchor="middle" textLength="21.0" lengthAdjust="spacingAndGlyphs" >(%)</text>
<text x="0" y="0" class="th" transform="translate(33.0 907.3) rotate(-90)" font-family="Liberation Sans" font-size="17" fill="#4a9ad8" text-anchor="middle" textLength="85.8" lengthAdjust="spacingAndGlyphs" >Cloud Cover</text>
<text x="0" y="0" class="th" transform="translate(52.0 908.0) rotate(-90)" font-family="Liberation Sans" font-size="17" fill="#000" text-anchor="middle" textLength="21.0" lengthAdjust="spacingAndGlyphs" >(%)</text>
<text x="0" y="0" class="th" transform="translate(89.0 989.7) rotate(-90)" font-family="Liberation Sans" font-size="17" fill="#000" text-anchor="middle" textLength="121.4" lengthAdjust="spacingAndGlyphs" >3hr Precip (mm)</text>
<text x="69.4" y="976.6" class="th" font-family="Liberation Sans" font-size="16.5" font-weight="normal" fill="#20d020" text-anchor="end" textLength="88.0" lengthAdjust="spacingAndGlyphs" >Total / Rain</text>
<text x="69.4" y="996.4" class="th" font-family="Liberation Sans" font-size="16.5" font-weight="normal" fill="#f03a3a" text-anchor="end" textLength="70.0" lengthAdjust="spacingAndGlyphs" >Convective</text>
</svg></body></html>
